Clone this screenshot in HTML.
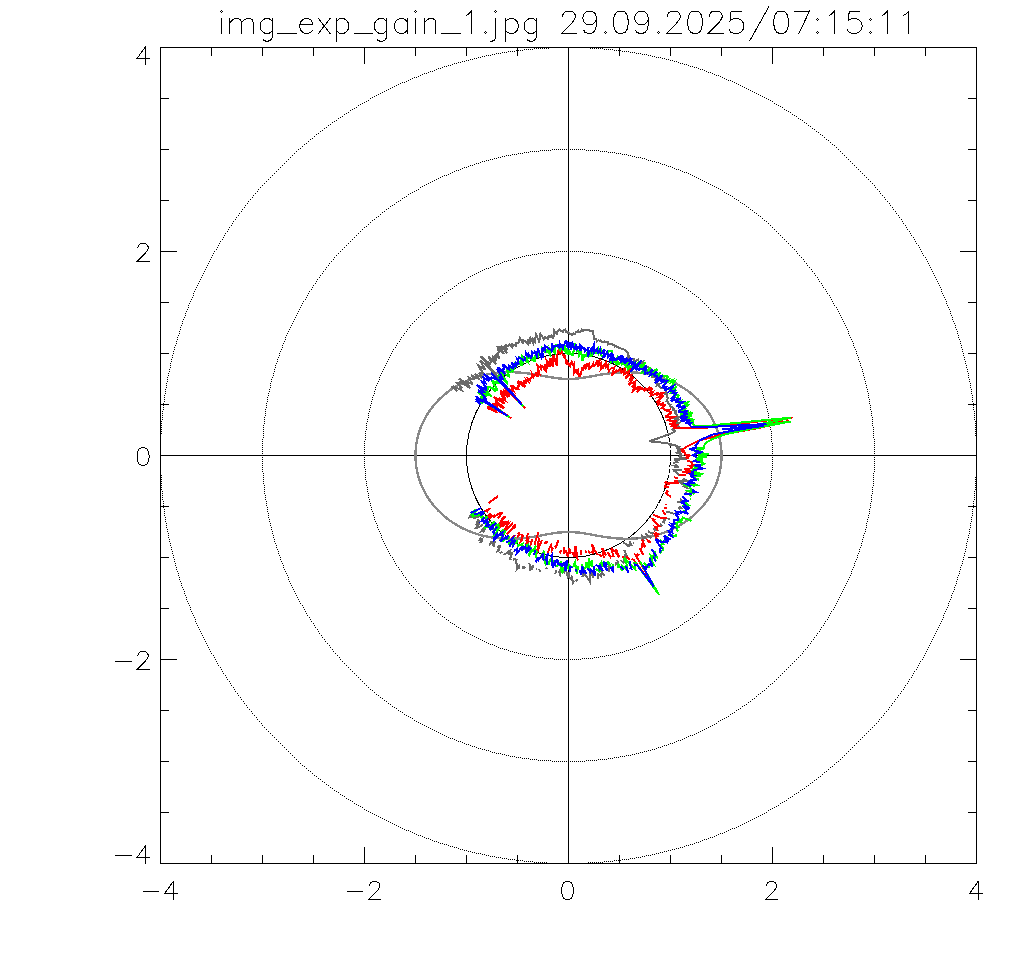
<!DOCTYPE html><html><head><meta charset="utf-8"><title>plot</title><style>html,body{margin:0;padding:0;background:#fff;font-family:"Liberation Sans",sans-serif}svg{display:block}</style></head><body>
<svg width="1024" height="960" viewBox="0 0 1024 960">
<rect x="0" y="0" width="1024" height="960" fill="#fff"/>
<g shape-rendering="crispEdges" stroke="#000" stroke-width="1" fill="none">
<rect x="160.5" y="47.5" width="816" height="816"/>
<path d="M211.5 48 v8M211.5 863 v-8M161 98.5 h8M976 98.5 h-8M262.5 48 v8M262.5 863 v-8M161 149.5 h8M976 149.5 h-8M313.5 48 v8M313.5 863 v-8M161 200.5 h8M976 200.5 h-8M364.5 48 v16M364.5 863 v-16M161 251.5 h16M976 251.5 h-16M415.5 48 v8M415.5 863 v-8M161 302.5 h8M976 302.5 h-8M466.5 48 v8M466.5 863 v-8M161 353.5 h8M976 353.5 h-8M517.5 48 v8M517.5 863 v-8M161 404.5 h8M976 404.5 h-8M568.5 48 v16M568.5 863 v-16M161 455.5 h16M976 455.5 h-16M619.5 48 v8M619.5 863 v-8M161 506.5 h8M976 506.5 h-8M670.5 48 v8M670.5 863 v-8M161 557.5 h8M976 557.5 h-8M721.5 48 v8M721.5 863 v-8M161 608.5 h8M976 608.5 h-8M772.5 48 v16M772.5 863 v-16M161 659.5 h16M976 659.5 h-16M823.5 48 v8M823.5 863 v-8M161 710.5 h8M976 710.5 h-8M874.5 48 v8M874.5 863 v-8M161 761.5 h8M976 761.5 h-8M925.5 48 v8M925.5 863 v-8M161 812.5 h8M976 812.5 h-8"/>
<path d="M568.5 47 V863 M160 455.5 H976"/>
</g>
<g fill="none" stroke="#000" stroke-width="1">
<path d="M668.27 434.29 A102.0 102.0 0 1 0 652.05 514.00" shape-rendering="crispEdges"/>
<path d="M652.05 514.00 A102.0 102.0 0 0 0 668.27 434.29" stroke-dasharray="5 1.3" shape-rendering="crispEdges"/>
<path d="M772 455.5h1M772 453.5h1M772 451.5h1M772 449.5h1M772 447.5h1M772 445.5h1M772 443.5h1M771 441.5h1M771 439.5h1M771 437.5h1M771 435.5h1M771 433.5h1M771 431.5h1M770 429.5h1M770 427.5h1M770 425.5h1M769 423.5h1M769 421.5h1M769 419.5h1M768 417.5h1M768 415.5h1M768 413.5h1M767 411.5h1M767 409.5h1M766 407.5h1M766 405.5h1M765 403.5h1M765 401.5h1M764 399.5h1M763 397.5h1M763 395.5h1M762 393.5h1M762 391.5h1M761 389.5h1M760 387.5h1M759 385.5h1M759 383.5h1M758 381.5h1M757 379.5h1M756 377.5h1M755 375.5h1M755 373.5h1M754 371.5h1M753 369.5h1M752 367.5h1M751 365.5h1M750 363.5h1M749 361.5h1M748 359.5h1M747 357.5h1M746 355.5h1M744 353.5h1M743 351.5h1M742 349.5h1M741 347.5h1M740 345.5h1M738 343.5h1M737 341.5h1M735 339.5h1M734 337.5h1M733 335.5h1M731 333.5h1M730 331.5h1M728 329.5h1M727 327.5h1M725 325.5h1M723 323.5h1M721 321.5h1M720 319.5h1M718 317.5h1M716 315.5h1M714 313.5h1M712 311.5h1M710 309.5h1M708 307.5h1M706 305.5h1M704 303.5h1M702 301.5h1M700 299.5h1M698 297.5h1M696 296.5h1M694 294.5h1M692 293.5h1M690 291.5h1M688 290.5h1M686 288.5h1M684 287.5h1M682 286.5h1M680 284.5h1M678 283.5h1M676 282.5h1M674 280.5h1M672 279.5h1M670 278.5h1M668 277.5h1M666 276.5h1M664 275.5h1M662 274.5h1M660 273.5h1M658 272.5h1M656 271.5h1M654 270.5h1M652 269.5h1M650 268.5h1M648 267.5h1M646 266.5h1M644 266.5h1M642 265.5h1M640 264.5h1M638 263.5h1M636 262.5h1M634 262.5h1M632 261.5h1M630 261.5h1M628 260.5h1M626 259.5h1M624 259.5h1M622 258.5h1M620 258.5h1M618 257.5h1M616 257.5h1M614 256.5h1M612 256.5h1M610 255.5h1M608 255.5h1M606 255.5h1M604 254.5h1M602 254.5h1M600 253.5h1M598 253.5h1M596 253.5h1M594 253.5h1M592 252.5h1M590 252.5h1M588 252.5h1M586 252.5h1M584 252.5h1M582 251.5h1M580 251.5h1M578 251.5h1M576 251.5h1M574 251.5h1M572 251.5h1M570 251.5h1M568 251.5h1M566 251.5h1M564 251.5h1M562 251.5h1M560 251.5h1M558 251.5h1M556 251.5h1M554 252.5h1M552 252.5h1M550 252.5h1M548 252.5h1M546 252.5h1M544 252.5h1M542 253.5h1M540 253.5h1M538 253.5h1M536 254.5h1M534 254.5h1M532 254.5h1M530 255.5h1M528 255.5h1M526 255.5h1M524 256.5h1M522 256.5h1M520 257.5h1M518 257.5h1M516 258.5h1M514 258.5h1M512 259.5h1M510 260.5h1M508 260.5h1M506 261.5h1M504 261.5h1M502 262.5h1M500 263.5h1M498 264.5h1M496 264.5h1M494 265.5h1M492 266.5h1M490 267.5h1M488 268.5h1M486 268.5h1M484 269.5h1M482 270.5h1M480 271.5h1M478 272.5h1M476 273.5h1M474 274.5h1M472 275.5h1M470 276.5h1M468 277.5h1M466 279.5h1M464 280.5h1M462 281.5h1M460 282.5h1M458 283.5h1M456 285.5h1M454 286.5h1M452 288.5h1M450 289.5h1M448 290.5h1M446 292.5h1M444 293.5h1M442 295.5h1M440 296.5h1M438 298.5h1M436 300.5h1M434 302.5h1M432 303.5h1M430 305.5h1M428 307.5h1M426 309.5h1M424 311.5h1M422 313.5h1M420 315.5h1M418 317.5h1M416 319.5h1M414 321.5h1M412 323.5h1M410 325.5h1M409 327.5h1M407 329.5h1M406 331.5h1M404 333.5h1M403 335.5h1M401 337.5h1M400 339.5h1M399 341.5h1M397 343.5h1M396 345.5h1M395 347.5h1M393 349.5h1M392 351.5h1M391 353.5h1M390 355.5h1M389 357.5h1M388 359.5h1M387 361.5h1M386 363.5h1M385 365.5h1M384 367.5h1M383 369.5h1M382 371.5h1M381 373.5h1M380 375.5h1M379 377.5h1M379 379.5h1M378 381.5h1M377 383.5h1M376 385.5h1M375 387.5h1M375 389.5h1M374 391.5h1M374 393.5h1M373 395.5h1M372 397.5h1M372 399.5h1M371 401.5h1M371 403.5h1M370 405.5h1M370 407.5h1M369 409.5h1M369 411.5h1M368 413.5h1M368 415.5h1M368 417.5h1M367 419.5h1M367 421.5h1M366 423.5h1M366 425.5h1M366 427.5h1M366 429.5h1M365 431.5h1M365 433.5h1M365 435.5h1M365 437.5h1M365 439.5h1M364 441.5h1M364 443.5h1M364 445.5h1M364 447.5h1M364 449.5h1M364 451.5h1M364 453.5h1M364 455.5h1M364 457.5h1M364 459.5h1M364 461.5h1M364 463.5h1M364 465.5h1M364 467.5h1M365 469.5h1M365 471.5h1M365 473.5h1M365 475.5h1M365 477.5h1M365 479.5h1M366 481.5h1M366 483.5h1M366 485.5h1M367 487.5h1M367 489.5h1M367 491.5h1M368 493.5h1M368 495.5h1M368 497.5h1M369 499.5h1M369 501.5h1M370 503.5h1M370 505.5h1M371 507.5h1M371 509.5h1M372 511.5h1M373 513.5h1M373 515.5h1M374 517.5h1M374 519.5h1M375 521.5h1M376 523.5h1M377 525.5h1M377 527.5h1M378 529.5h1M379 531.5h1M380 533.5h1M381 535.5h1M381 537.5h1M382 539.5h1M383 541.5h1M384 543.5h1M385 545.5h1M386 547.5h1M387 549.5h1M388 551.5h1M389 553.5h1M390 555.5h1M392 557.5h1M393 559.5h1M394 561.5h1M395 563.5h1M396 565.5h1M398 567.5h1M399 569.5h1M401 571.5h1M402 573.5h1M403 575.5h1M405 577.5h1M406 579.5h1M408 581.5h1M409 583.5h1M411 585.5h1M413 587.5h1M415 589.5h1M416 591.5h1M418 593.5h1M420 595.5h1M422 597.5h1M424 599.5h1M426 601.5h1M428 603.5h1M430 605.5h1M432 607.5h1M434 609.5h1M436 611.5h1M438 613.5h1M440 614.5h1M442 616.5h1M444 617.5h1M446 619.5h1M448 620.5h1M450 622.5h1M452 623.5h1M454 624.5h1M456 626.5h1M458 627.5h1M460 628.5h1M462 630.5h1M464 631.5h1M466 632.5h1M468 633.5h1M470 634.5h1M472 635.5h1M474 636.5h1M476 637.5h1M478 638.5h1M480 639.5h1M482 640.5h1M484 641.5h1M486 642.5h1M488 643.5h1M490 644.5h1M492 644.5h1M494 645.5h1M496 646.5h1M498 647.5h1M500 648.5h1M502 648.5h1M504 649.5h1M506 649.5h1M508 650.5h1M510 651.5h1M512 651.5h1M514 652.5h1M516 652.5h1M518 653.5h1M520 653.5h1M522 654.5h1M524 654.5h1M526 655.5h1M528 655.5h1M530 655.5h1M532 656.5h1M534 656.5h1M536 657.5h1M538 657.5h1M540 657.5h1M542 657.5h1M544 658.5h1M546 658.5h1M548 658.5h1M550 658.5h1M552 658.5h1M554 659.5h1M556 659.5h1M558 659.5h1M560 659.5h1M562 659.5h1M564 659.5h1M566 659.5h1M568 659.5h1M570 659.5h1M572 659.5h1M574 659.5h1M576 659.5h1M578 659.5h1M580 659.5h1M582 658.5h1M584 658.5h1M586 658.5h1M588 658.5h1M590 658.5h1M592 658.5h1M594 657.5h1M596 657.5h1M598 657.5h1M600 656.5h1M602 656.5h1M604 656.5h1M606 655.5h1M608 655.5h1M610 655.5h1M612 654.5h1M614 654.5h1M616 653.5h1M618 653.5h1M620 652.5h1M622 652.5h1M624 651.5h1M626 650.5h1M628 650.5h1M630 649.5h1M632 649.5h1M634 648.5h1M636 647.5h1M638 646.5h1M640 646.5h1M642 645.5h1M644 644.5h1M646 643.5h1M648 642.5h1M650 642.5h1M652 641.5h1M654 640.5h1M656 639.5h1M658 638.5h1M660 637.5h1M662 636.5h1M664 635.5h1M666 634.5h1M668 633.5h1M670 631.5h1M672 630.5h1M674 629.5h1M676 628.5h1M678 627.5h1M680 625.5h1M682 624.5h1M684 622.5h1M686 621.5h1M688 620.5h1M690 618.5h1M692 617.5h1M694 615.5h1M696 614.5h1M698 612.5h1M700 610.5h1M702 608.5h1M704 607.5h1M706 605.5h1M708 603.5h1M710 601.5h1M712 599.5h1M714 597.5h1M716 595.5h1M718 593.5h1M720 591.5h1M722 589.5h1M724 587.5h1M726 585.5h1M727 583.5h1M729 581.5h1M730 579.5h1M732 577.5h1M733 575.5h1M735 573.5h1M736 571.5h1M737 569.5h1M739 567.5h1M740 565.5h1M741 563.5h1M743 561.5h1M744 559.5h1M745 557.5h1M746 555.5h1M747 553.5h1M748 551.5h1M749 549.5h1M750 547.5h1M751 545.5h1M752 543.5h1M753 541.5h1M754 539.5h1M755 537.5h1M756 535.5h1M757 533.5h1M757 531.5h1M758 529.5h1M759 527.5h1M760 525.5h1M761 523.5h1M761 521.5h1M762 519.5h1M762 517.5h1M763 515.5h1M764 513.5h1M764 511.5h1M765 509.5h1M765 507.5h1M766 505.5h1M766 503.5h1M767 501.5h1M767 499.5h1M768 497.5h1M768 495.5h1M768 493.5h1M769 491.5h1M769 489.5h1M770 487.5h1M770 485.5h1M770 483.5h1M770 481.5h1M771 479.5h1M771 477.5h1M771 475.5h1M771 473.5h1M771 471.5h1M772 469.5h1M772 467.5h1M772 465.5h1M772 463.5h1M772 461.5h1M772 459.5h1M772 457.5h1M874 455.5h1M874 453.5h1M874 451.5h1M874 449.5h1M874 447.5h1M874 445.5h1M874 443.5h1M874 441.5h1M874 439.5h1M873 437.5h1M873 435.5h1M873 433.5h1M873 431.5h1M873 429.5h1M873 427.5h1M872 425.5h1M872 423.5h1M872 421.5h1M872 419.5h1M872 417.5h1M871 415.5h1M871 413.5h1M871 411.5h1M870 409.5h1M870 407.5h1M870 405.5h1M869 403.5h1M869 401.5h1M869 399.5h1M868 397.5h1M868 395.5h1M868 393.5h1M867 391.5h1M867 389.5h1M866 387.5h1M866 385.5h1M865 383.5h1M865 381.5h1M864 379.5h1M864 377.5h1M863 375.5h1M863 373.5h1M862 371.5h1M862 369.5h1M861 367.5h1M860 365.5h1M860 363.5h1M859 361.5h1M858 359.5h1M858 357.5h1M857 355.5h1M856 353.5h1M856 351.5h1M855 349.5h1M854 347.5h1M853 345.5h1M853 343.5h1M852 341.5h1M851 339.5h1M850 337.5h1M849 335.5h1M848 333.5h1M848 331.5h1M847 329.5h1M846 327.5h1M845 325.5h1M844 323.5h1M843 321.5h1M842 319.5h1M841 317.5h1M840 315.5h1M839 313.5h1M838 311.5h1M837 309.5h1M836 307.5h1M834 305.5h1M833 303.5h1M832 301.5h1M831 299.5h1M830 297.5h1M829 295.5h1M827 293.5h1M826 291.5h1M825 289.5h1M823 287.5h1M822 285.5h1M821 283.5h1M819 281.5h1M818 279.5h1M817 277.5h1M815 275.5h1M814 273.5h1M812 271.5h1M811 269.5h1M809 267.5h1M807 265.5h1M806 263.5h1M804 261.5h1M803 259.5h1M801 257.5h1M799 255.5h1M797 253.5h1M796 251.5h1M794 249.5h1M792 247.5h1M790 245.5h1M788 243.5h1M786 241.5h1M784 239.5h1M782 237.5h1M780 235.5h1M778 233.5h1M776 231.5h1M774 229.5h1M772 227.5h1M770 225.5h1M768 223.5h1M766 221.5h1M764 220.5h1M762 218.5h1M760 216.5h1M758 215.5h1M756 213.5h1M754 212.5h1M752 210.5h1M750 209.5h1M748 207.5h1M746 206.5h1M744 204.5h1M742 203.5h1M740 202.5h1M738 200.5h1M736 199.5h1M734 198.5h1M732 196.5h1M730 195.5h1M728 194.5h1M726 193.5h1M724 192.5h1M722 190.5h1M720 189.5h1M718 188.5h1M716 187.5h1M714 186.5h1M712 185.5h1M710 184.5h1M708 183.5h1M706 182.5h1M704 181.5h1M702 180.5h1M700 179.5h1M698 178.5h1M696 177.5h1M694 176.5h1M692 175.5h1M690 174.5h1M688 173.5h1M686 172.5h1M684 172.5h1M682 171.5h1M680 170.5h1M678 169.5h1M676 169.5h1M674 168.5h1M672 167.5h1M670 166.5h1M668 166.5h1M666 165.5h1M664 164.5h1M662 164.5h1M660 163.5h1M658 162.5h1M656 162.5h1M654 161.5h1M652 161.5h1M650 160.5h1M648 160.5h1M646 159.5h1M644 158.5h1M642 158.5h1M640 157.5h1M638 157.5h1M636 157.5h1M634 156.5h1M632 156.5h1M630 155.5h1M628 155.5h1M626 154.5h1M624 154.5h1M622 154.5h1M620 153.5h1M618 153.5h1M616 153.5h1M614 152.5h1M612 152.5h1M610 152.5h1M608 152.5h1M606 151.5h1M604 151.5h1M602 151.5h1M600 151.5h1M598 150.5h1M596 150.5h1M594 150.5h1M592 150.5h1M590 150.5h1M588 150.5h1M586 150.5h1M584 149.5h1M582 149.5h1M580 149.5h1M578 149.5h1M576 149.5h1M574 149.5h1M572 149.5h1M570 149.5h1M568 149.5h1M566 149.5h1M564 149.5h1M562 149.5h1M560 149.5h1M558 149.5h1M556 149.5h1M554 149.5h1M552 149.5h1M550 150.5h1M548 150.5h1M546 150.5h1M544 150.5h1M542 150.5h1M540 150.5h1M538 151.5h1M536 151.5h1M534 151.5h1M532 151.5h1M530 151.5h1M528 152.5h1M526 152.5h1M524 152.5h1M522 153.5h1M520 153.5h1M518 153.5h1M516 154.5h1M514 154.5h1M512 154.5h1M510 155.5h1M508 155.5h1M506 155.5h1M504 156.5h1M502 156.5h1M500 157.5h1M498 157.5h1M496 158.5h1M494 158.5h1M492 159.5h1M490 159.5h1M488 160.5h1M486 160.5h1M484 161.5h1M482 161.5h1M480 162.5h1M478 163.5h1M476 163.5h1M474 164.5h1M472 165.5h1M470 165.5h1M468 166.5h1M466 167.5h1M464 167.5h1M462 168.5h1M460 169.5h1M458 170.5h1M456 170.5h1M454 171.5h1M452 172.5h1M450 173.5h1M448 174.5h1M446 175.5h1M444 175.5h1M442 176.5h1M440 177.5h1M438 178.5h1M436 179.5h1M434 180.5h1M432 181.5h1M430 182.5h1M428 183.5h1M426 184.5h1M424 185.5h1M422 186.5h1M420 187.5h1M418 189.5h1M416 190.5h1M414 191.5h1M412 192.5h1M410 193.5h1M408 194.5h1M406 196.5h1M404 197.5h1M402 198.5h1M400 200.5h1M398 201.5h1M396 202.5h1M394 204.5h1M392 205.5h1M390 206.5h1M388 208.5h1M386 209.5h1M384 211.5h1M382 212.5h1M380 214.5h1M378 216.5h1M376 217.5h1M374 219.5h1M372 220.5h1M370 222.5h1M368 224.5h1M366 226.5h1M364 227.5h1M362 229.5h1M360 231.5h1M358 233.5h1M356 235.5h1M354 237.5h1M352 239.5h1M350 241.5h1M348 243.5h1M346 245.5h1M344 247.5h1M342 249.5h1M340 251.5h1M338 253.5h1M336 255.5h1M334 257.5h1M333 259.5h1M331 261.5h1M329 263.5h1M328 265.5h1M326 267.5h1M325 269.5h1M323 271.5h1M322 273.5h1M320 275.5h1M319 277.5h1M317 279.5h1M316 281.5h1M315 283.5h1M313 285.5h1M312 287.5h1M311 289.5h1M309 291.5h1M308 293.5h1M307 295.5h1M306 297.5h1M305 299.5h1M303 301.5h1M302 303.5h1M301 305.5h1M300 307.5h1M299 309.5h1M298 311.5h1M297 313.5h1M296 315.5h1M295 317.5h1M294 319.5h1M293 321.5h1M292 323.5h1M291 325.5h1M290 327.5h1M289 329.5h1M288 331.5h1M287 333.5h1M286 335.5h1M285 337.5h1M285 339.5h1M284 341.5h1M283 343.5h1M282 345.5h1M282 347.5h1M281 349.5h1M280 351.5h1M279 353.5h1M279 355.5h1M278 357.5h1M277 359.5h1M277 361.5h1M276 363.5h1M275 365.5h1M275 367.5h1M274 369.5h1M274 371.5h1M273 373.5h1M273 375.5h1M272 377.5h1M271 379.5h1M271 381.5h1M270 383.5h1M270 385.5h1M270 387.5h1M269 389.5h1M269 391.5h1M268 393.5h1M268 395.5h1M267 397.5h1M267 399.5h1M267 401.5h1M266 403.5h1M266 405.5h1M266 407.5h1M265 409.5h1M265 411.5h1M265 413.5h1M265 415.5h1M264 417.5h1M264 419.5h1M264 421.5h1M264 423.5h1M263 425.5h1M263 427.5h1M263 429.5h1M263 431.5h1M263 433.5h1M263 435.5h1M263 437.5h1M262 439.5h1M262 441.5h1M262 443.5h1M262 445.5h1M262 447.5h1M262 449.5h1M262 451.5h1M262 453.5h1M262 455.5h1M262 457.5h1M262 459.5h1M262 461.5h1M262 463.5h1M262 465.5h1M262 467.5h1M262 469.5h1M262 471.5h1M263 473.5h1M263 475.5h1M263 477.5h1M263 479.5h1M263 481.5h1M263 483.5h1M264 485.5h1M264 487.5h1M264 489.5h1M264 491.5h1M264 493.5h1M265 495.5h1M265 497.5h1M265 499.5h1M266 501.5h1M266 503.5h1M266 505.5h1M267 507.5h1M267 509.5h1M267 511.5h1M268 513.5h1M268 515.5h1M268 517.5h1M269 519.5h1M269 521.5h1M270 523.5h1M270 525.5h1M271 527.5h1M271 529.5h1M272 531.5h1M272 533.5h1M273 535.5h1M273 537.5h1M274 539.5h1M274 541.5h1M275 543.5h1M276 545.5h1M276 547.5h1M277 549.5h1M278 551.5h1M278 553.5h1M279 555.5h1M280 557.5h1M280 559.5h1M281 561.5h1M282 563.5h1M283 565.5h1M283 567.5h1M284 569.5h1M285 571.5h1M286 573.5h1M287 575.5h1M288 577.5h1M288 579.5h1M289 581.5h1M290 583.5h1M291 585.5h1M292 587.5h1M293 589.5h1M294 591.5h1M295 593.5h1M296 595.5h1M297 597.5h1M298 599.5h1M299 601.5h1M300 603.5h1M302 605.5h1M303 607.5h1M304 609.5h1M305 611.5h1M306 613.5h1M307 615.5h1M309 617.5h1M310 619.5h1M311 621.5h1M313 623.5h1M314 625.5h1M315 627.5h1M317 629.5h1M318 631.5h1M319 633.5h1M321 635.5h1M322 637.5h1M324 639.5h1M325 641.5h1M327 643.5h1M329 645.5h1M330 647.5h1M332 649.5h1M333 651.5h1M335 653.5h1M337 655.5h1M339 657.5h1M340 659.5h1M342 661.5h1M344 663.5h1M346 665.5h1M348 667.5h1M350 669.5h1M352 671.5h1M354 673.5h1M356 675.5h1M358 677.5h1M360 679.5h1M362 681.5h1M364 683.5h1M366 685.5h1M368 687.5h1M370 689.5h1M372 690.5h1M374 692.5h1M376 694.5h1M378 695.5h1M380 697.5h1M382 698.5h1M384 700.5h1M386 701.5h1M388 703.5h1M390 704.5h1M392 706.5h1M394 707.5h1M396 708.5h1M398 710.5h1M400 711.5h1M402 712.5h1M404 714.5h1M406 715.5h1M408 716.5h1M410 717.5h1M412 718.5h1M414 720.5h1M416 721.5h1M418 722.5h1M420 723.5h1M422 724.5h1M424 725.5h1M426 726.5h1M428 727.5h1M430 728.5h1M432 729.5h1M434 730.5h1M436 731.5h1M438 732.5h1M440 733.5h1M442 734.5h1M444 735.5h1M446 736.5h1M448 737.5h1M450 738.5h1M452 738.5h1M454 739.5h1M456 740.5h1M458 741.5h1M460 741.5h1M462 742.5h1M464 743.5h1M466 744.5h1M468 744.5h1M470 745.5h1M472 746.5h1M474 746.5h1M476 747.5h1M478 748.5h1M480 748.5h1M482 749.5h1M484 749.5h1M486 750.5h1M488 750.5h1M490 751.5h1M492 752.5h1M494 752.5h1M496 753.5h1M498 753.5h1M500 753.5h1M502 754.5h1M504 754.5h1M506 755.5h1M508 755.5h1M510 756.5h1M512 756.5h1M514 756.5h1M516 757.5h1M518 757.5h1M520 757.5h1M522 758.5h1M524 758.5h1M526 758.5h1M528 758.5h1M530 759.5h1M532 759.5h1M534 759.5h1M536 759.5h1M538 760.5h1M540 760.5h1M542 760.5h1M544 760.5h1M546 760.5h1M548 760.5h1M550 760.5h1M552 761.5h1M554 761.5h1M556 761.5h1M558 761.5h1M560 761.5h1M562 761.5h1M564 761.5h1M566 761.5h1M568 761.5h1M570 761.5h1M572 761.5h1M574 761.5h1M576 761.5h1M578 761.5h1M580 761.5h1M582 761.5h1M584 761.5h1M586 760.5h1M588 760.5h1M590 760.5h1M592 760.5h1M594 760.5h1M596 760.5h1M598 759.5h1M600 759.5h1M602 759.5h1M604 759.5h1M606 759.5h1M608 758.5h1M610 758.5h1M612 758.5h1M614 757.5h1M616 757.5h1M618 757.5h1M620 756.5h1M622 756.5h1M624 756.5h1M626 755.5h1M628 755.5h1M630 755.5h1M632 754.5h1M634 754.5h1M636 753.5h1M638 753.5h1M640 752.5h1M642 752.5h1M644 751.5h1M646 751.5h1M648 750.5h1M650 750.5h1M652 749.5h1M654 749.5h1M656 748.5h1M658 747.5h1M660 747.5h1M662 746.5h1M664 745.5h1M666 745.5h1M668 744.5h1M670 743.5h1M672 743.5h1M674 742.5h1M676 741.5h1M678 740.5h1M680 740.5h1M682 739.5h1M684 738.5h1M686 737.5h1M688 736.5h1M690 735.5h1M692 735.5h1M694 734.5h1M696 733.5h1M698 732.5h1M700 731.5h1M702 730.5h1M704 729.5h1M706 728.5h1M708 727.5h1M710 726.5h1M712 725.5h1M714 724.5h1M716 723.5h1M718 721.5h1M720 720.5h1M722 719.5h1M724 718.5h1M726 717.5h1M728 716.5h1M730 714.5h1M732 713.5h1M734 712.5h1M736 710.5h1M738 709.5h1M740 708.5h1M742 706.5h1M744 705.5h1M746 704.5h1M748 702.5h1M750 701.5h1M752 699.5h1M754 698.5h1M756 696.5h1M758 694.5h1M760 693.5h1M762 691.5h1M764 690.5h1M766 688.5h1M768 686.5h1M770 684.5h1M772 683.5h1M774 681.5h1M776 679.5h1M778 677.5h1M780 675.5h1M782 673.5h1M784 671.5h1M786 669.5h1M788 667.5h1M790 665.5h1M792 663.5h1M794 661.5h1M796 659.5h1M798 657.5h1M800 655.5h1M802 653.5h1M803 651.5h1M805 649.5h1M807 647.5h1M808 645.5h1M810 643.5h1M811 641.5h1M813 639.5h1M814 637.5h1M816 635.5h1M817 633.5h1M819 631.5h1M820 629.5h1M821 627.5h1M823 625.5h1M824 623.5h1M825 621.5h1M827 619.5h1M828 617.5h1M829 615.5h1M830 613.5h1M831 611.5h1M833 609.5h1M834 607.5h1M835 605.5h1M836 603.5h1M837 601.5h1M838 599.5h1M839 597.5h1M840 595.5h1M841 593.5h1M842 591.5h1M843 589.5h1M844 587.5h1M845 585.5h1M846 583.5h1M847 581.5h1M848 579.5h1M849 577.5h1M850 575.5h1M851 573.5h1M851 571.5h1M852 569.5h1M853 567.5h1M854 565.5h1M854 563.5h1M855 561.5h1M856 559.5h1M857 557.5h1M857 555.5h1M858 553.5h1M859 551.5h1M859 549.5h1M860 547.5h1M861 545.5h1M861 543.5h1M862 541.5h1M862 539.5h1M863 537.5h1M863 535.5h1M864 533.5h1M865 531.5h1M865 529.5h1M866 527.5h1M866 525.5h1M866 523.5h1M867 521.5h1M867 519.5h1M868 517.5h1M868 515.5h1M869 513.5h1M869 511.5h1M869 509.5h1M870 507.5h1M870 505.5h1M870 503.5h1M871 501.5h1M871 499.5h1M871 497.5h1M871 495.5h1M872 493.5h1M872 491.5h1M872 489.5h1M872 487.5h1M873 485.5h1M873 483.5h1M873 481.5h1M873 479.5h1M873 477.5h1M873 475.5h1M873 473.5h1M874 471.5h1M874 469.5h1M874 467.5h1M874 465.5h1M874 463.5h1M874 461.5h1M874 459.5h1M874 457.5h1M976 455.5h1M976 453.5h1M976 451.5h1M976 449.5h1M976 447.5h1M976 445.5h1M976 443.5h1M976 441.5h1M976 439.5h1M976 437.5h1M975 435.5h1M975 433.5h1M975 431.5h1M975 429.5h1M975 427.5h1M975 425.5h1M975 423.5h1M975 421.5h1M974 419.5h1M974 417.5h1M974 415.5h1M974 413.5h1M974 411.5h1M973 409.5h1M973 407.5h1M973 405.5h1M973 403.5h1M972 401.5h1M972 399.5h1M972 397.5h1M972 395.5h1M971 393.5h1M971 391.5h1M971 389.5h1M970 387.5h1M970 385.5h1M970 383.5h1M969 381.5h1M969 379.5h1M968 377.5h1M968 375.5h1M968 373.5h1M967 371.5h1M967 369.5h1M966 367.5h1M966 365.5h1M965 363.5h1M965 361.5h1M964 359.5h1M964 357.5h1M963 355.5h1M963 353.5h1M962 351.5h1M962 349.5h1M961 347.5h1M961 345.5h1M960 343.5h1M960 341.5h1M959 339.5h1M958 337.5h1M958 335.5h1M957 333.5h1M957 331.5h1M956 329.5h1M955 327.5h1M955 325.5h1M954 323.5h1M953 321.5h1M952 319.5h1M952 317.5h1M951 315.5h1M950 313.5h1M950 311.5h1M949 309.5h1M948 307.5h1M947 305.5h1M946 303.5h1M946 301.5h1M945 299.5h1M944 297.5h1M943 295.5h1M942 293.5h1M941 291.5h1M941 289.5h1M940 287.5h1M939 285.5h1M938 283.5h1M937 281.5h1M936 279.5h1M935 277.5h1M934 275.5h1M933 273.5h1M932 271.5h1M931 269.5h1M930 267.5h1M929 265.5h1M928 263.5h1M927 261.5h1M926 259.5h1M925 257.5h1M923 255.5h1M922 253.5h1M921 251.5h1M920 249.5h1M919 247.5h1M918 245.5h1M916 243.5h1M915 241.5h1M914 239.5h1M913 237.5h1M911 235.5h1M910 233.5h1M909 231.5h1M907 229.5h1M906 227.5h1M905 225.5h1M903 223.5h1M902 221.5h1M901 219.5h1M899 217.5h1M898 215.5h1M896 213.5h1M895 211.5h1M893 209.5h1M892 207.5h1M890 205.5h1M889 203.5h1M887 201.5h1M885 199.5h1M884 197.5h1M882 195.5h1M880 193.5h1M879 191.5h1M877 189.5h1M875 187.5h1M874 185.5h1M872 183.5h1M870 181.5h1M868 179.5h1M866 177.5h1M864 175.5h1M862 173.5h1M860 171.5h1M858 169.5h1M856 167.5h1M854 165.5h1M852 163.5h1M850 161.5h1M848 159.5h1M846 157.5h1M844 155.5h1M842 153.5h1M840 151.5h1M838 149.5h1M836 147.5h1M834 145.5h1M832 144.5h1M830 142.5h1M828 140.5h1M826 139.5h1M824 137.5h1M822 135.5h1M820 134.5h1M818 132.5h1M816 131.5h1M814 129.5h1M812 128.5h1M810 126.5h1M808 125.5h1M806 123.5h1M804 122.5h1M802 120.5h1M800 119.5h1M798 118.5h1M796 116.5h1M794 115.5h1M792 114.5h1M790 112.5h1M788 111.5h1M786 110.5h1M784 109.5h1M782 107.5h1M780 106.5h1M778 105.5h1M776 104.5h1M774 103.5h1M772 101.5h1M770 100.5h1M768 99.5h1M766 98.5h1M764 97.5h1M762 96.5h1M760 95.5h1M758 94.5h1M756 93.5h1M754 92.5h1M752 91.5h1M750 90.5h1M748 89.5h1M746 88.5h1M744 87.5h1M742 86.5h1M740 85.5h1M738 84.5h1M736 83.5h1M734 82.5h1M732 81.5h1M730 80.5h1M728 80.5h1M726 79.5h1M724 78.5h1M722 77.5h1M720 76.5h1M718 75.5h1M716 75.5h1M714 74.5h1M712 73.5h1M710 72.5h1M708 72.5h1M706 71.5h1M704 70.5h1M702 69.5h1M700 69.5h1M698 68.5h1M696 67.5h1M694 67.5h1M692 66.5h1M690 66.5h1M688 65.5h1M686 64.5h1M684 64.5h1M682 63.5h1M680 63.5h1M678 62.5h1M676 61.5h1M674 61.5h1M672 60.5h1M670 60.5h1M668 59.5h1M666 59.5h1M664 58.5h1M662 58.5h1M660 57.5h1M658 57.5h1M656 57.5h1M654 56.5h1M652 56.5h1M650 55.5h1M648 55.5h1M646 54.5h1M644 54.5h1M642 54.5h1M640 53.5h1M638 53.5h1M636 53.5h1M634 52.5h1M632 52.5h1M630 52.5h1M628 51.5h1M626 51.5h1M624 51.5h1M622 51.5h1M620 50.5h1M618 50.5h1M616 50.5h1M614 50.5h1M612 49.5h1M610 49.5h1M608 49.5h1M606 49.5h1M604 49.5h1M602 48.5h1M600 48.5h1M598 48.5h1M596 48.5h1M594 48.5h1M592 48.5h1M590 48.5h1M588 47.5h1M586 47.5h1M584 47.5h1M582 47.5h1M580 47.5h1M578 47.5h1M576 47.5h1M574 47.5h1M572 47.5h1M570 47.5h1M568 47.5h1M566 47.5h1M564 47.5h1M562 47.5h1M560 47.5h1M558 47.5h1M556 47.5h1M554 47.5h1M552 47.5h1M550 47.5h1M548 48.5h1M546 48.5h1M544 48.5h1M542 48.5h1M540 48.5h1M538 48.5h1M536 48.5h1M534 48.5h1M532 49.5h1M530 49.5h1M528 49.5h1M526 49.5h1M524 49.5h1M522 50.5h1M520 50.5h1M518 50.5h1M516 50.5h1M514 51.5h1M512 51.5h1M510 51.5h1M508 51.5h1M506 52.5h1M504 52.5h1M502 52.5h1M500 53.5h1M498 53.5h1M496 53.5h1M494 54.5h1M492 54.5h1M490 55.5h1M488 55.5h1M486 55.5h1M484 56.5h1M482 56.5h1M480 57.5h1M478 57.5h1M476 58.5h1M474 58.5h1M472 59.5h1M470 59.5h1M468 60.5h1M466 60.5h1M464 61.5h1M462 61.5h1M460 62.5h1M458 62.5h1M456 63.5h1M454 63.5h1M452 64.5h1M450 65.5h1M448 65.5h1M446 66.5h1M444 66.5h1M442 67.5h1M440 68.5h1M438 68.5h1M436 69.5h1M434 70.5h1M432 71.5h1M430 71.5h1M428 72.5h1M426 73.5h1M424 73.5h1M422 74.5h1M420 75.5h1M418 76.5h1M416 77.5h1M414 77.5h1M412 78.5h1M410 79.5h1M408 80.5h1M406 81.5h1M404 82.5h1M402 82.5h1M400 83.5h1M398 84.5h1M396 85.5h1M394 86.5h1M392 87.5h1M390 88.5h1M388 89.5h1M386 90.5h1M384 91.5h1M382 92.5h1M380 93.5h1M378 94.5h1M376 95.5h1M374 96.5h1M372 97.5h1M370 98.5h1M368 100.5h1M366 101.5h1M364 102.5h1M362 103.5h1M360 104.5h1M358 105.5h1M356 107.5h1M354 108.5h1M352 109.5h1M350 110.5h1M348 112.5h1M346 113.5h1M344 114.5h1M342 116.5h1M340 117.5h1M338 118.5h1M336 120.5h1M334 121.5h1M332 122.5h1M330 124.5h1M328 125.5h1M326 127.5h1M324 128.5h1M322 130.5h1M320 131.5h1M318 133.5h1M316 134.5h1M314 136.5h1M312 138.5h1M310 139.5h1M308 141.5h1M306 143.5h1M304 144.5h1M302 146.5h1M300 148.5h1M298 149.5h1M296 151.5h1M294 153.5h1M292 155.5h1M290 157.5h1M288 159.5h1M286 161.5h1M284 163.5h1M282 165.5h1M280 167.5h1M278 169.5h1M276 171.5h1M274 173.5h1M272 175.5h1M270 177.5h1M268 179.5h1M266 181.5h1M264 183.5h1M262 185.5h1M260 187.5h1M258 189.5h1M257 191.5h1M255 193.5h1M253 195.5h1M252 197.5h1M250 199.5h1M248 201.5h1M247 203.5h1M245 205.5h1M244 207.5h1M242 209.5h1M241 211.5h1M239 213.5h1M238 215.5h1M236 217.5h1M235 219.5h1M233 221.5h1M232 223.5h1M231 225.5h1M229 227.5h1M228 229.5h1M227 231.5h1M225 233.5h1M224 235.5h1M223 237.5h1M222 239.5h1M220 241.5h1M219 243.5h1M218 245.5h1M217 247.5h1M216 249.5h1M214 251.5h1M213 253.5h1M212 255.5h1M211 257.5h1M210 259.5h1M209 261.5h1M208 263.5h1M207 265.5h1M206 267.5h1M205 269.5h1M204 271.5h1M203 273.5h1M202 275.5h1M201 277.5h1M200 279.5h1M199 281.5h1M198 283.5h1M197 285.5h1M196 287.5h1M195 289.5h1M194 291.5h1M193 293.5h1M193 295.5h1M192 297.5h1M191 299.5h1M190 301.5h1M189 303.5h1M188 305.5h1M188 307.5h1M187 309.5h1M186 311.5h1M185 313.5h1M185 315.5h1M184 317.5h1M183 319.5h1M182 321.5h1M182 323.5h1M181 325.5h1M180 327.5h1M180 329.5h1M179 331.5h1M179 333.5h1M178 335.5h1M177 337.5h1M177 339.5h1M176 341.5h1M176 343.5h1M175 345.5h1M174 347.5h1M174 349.5h1M173 351.5h1M173 353.5h1M172 355.5h1M172 357.5h1M171 359.5h1M171 361.5h1M170 363.5h1M170 365.5h1M170 367.5h1M169 369.5h1M169 371.5h1M168 373.5h1M168 375.5h1M167 377.5h1M167 379.5h1M167 381.5h1M166 383.5h1M166 385.5h1M166 387.5h1M165 389.5h1M165 391.5h1M165 393.5h1M164 395.5h1M164 397.5h1M164 399.5h1M164 401.5h1M163 403.5h1M163 405.5h1M163 407.5h1M163 409.5h1M162 411.5h1M162 413.5h1M162 415.5h1M162 417.5h1M162 419.5h1M161 421.5h1M161 423.5h1M161 425.5h1M161 427.5h1M161 429.5h1M161 431.5h1M161 433.5h1M160 435.5h1M160 437.5h1M160 439.5h1M160 441.5h1M160 443.5h1M160 445.5h1M160 447.5h1M160 449.5h1M160 451.5h1M160 453.5h1M160 455.5h1M160 457.5h1M160 459.5h1M160 461.5h1M160 463.5h1M160 465.5h1M160 467.5h1M160 469.5h1M160 471.5h1M160 473.5h1M161 475.5h1M161 477.5h1M161 479.5h1M161 481.5h1M161 483.5h1M161 485.5h1M161 487.5h1M161 489.5h1M162 491.5h1M162 493.5h1M162 495.5h1M162 497.5h1M162 499.5h1M163 501.5h1M163 503.5h1M163 505.5h1M163 507.5h1M164 509.5h1M164 511.5h1M164 513.5h1M164 515.5h1M165 517.5h1M165 519.5h1M165 521.5h1M166 523.5h1M166 525.5h1M166 527.5h1M167 529.5h1M167 531.5h1M168 533.5h1M168 535.5h1M168 537.5h1M169 539.5h1M169 541.5h1M170 543.5h1M170 545.5h1M171 547.5h1M171 549.5h1M172 551.5h1M172 553.5h1M173 555.5h1M173 557.5h1M174 559.5h1M174 561.5h1M175 563.5h1M175 565.5h1M176 567.5h1M176 569.5h1M177 571.5h1M178 573.5h1M178 575.5h1M179 577.5h1M179 579.5h1M180 581.5h1M181 583.5h1M181 585.5h1M182 587.5h1M183 589.5h1M184 591.5h1M184 593.5h1M185 595.5h1M186 597.5h1M186 599.5h1M187 601.5h1M188 603.5h1M189 605.5h1M190 607.5h1M190 609.5h1M191 611.5h1M192 613.5h1M193 615.5h1M194 617.5h1M195 619.5h1M195 621.5h1M196 623.5h1M197 625.5h1M198 627.5h1M199 629.5h1M200 631.5h1M201 633.5h1M202 635.5h1M203 637.5h1M204 639.5h1M205 641.5h1M206 643.5h1M207 645.5h1M208 647.5h1M209 649.5h1M210 651.5h1M211 653.5h1M213 655.5h1M214 657.5h1M215 659.5h1M216 661.5h1M217 663.5h1M218 665.5h1M220 667.5h1M221 669.5h1M222 671.5h1M223 673.5h1M225 675.5h1M226 677.5h1M227 679.5h1M229 681.5h1M230 683.5h1M231 685.5h1M233 687.5h1M234 689.5h1M235 691.5h1M237 693.5h1M238 695.5h1M240 697.5h1M241 699.5h1M243 701.5h1M244 703.5h1M246 705.5h1M247 707.5h1M249 709.5h1M251 711.5h1M252 713.5h1M254 715.5h1M256 717.5h1M257 719.5h1M259 721.5h1M261 723.5h1M262 725.5h1M264 727.5h1M266 729.5h1M268 731.5h1M270 733.5h1M272 735.5h1M274 737.5h1M276 739.5h1M278 741.5h1M280 743.5h1M282 745.5h1M284 747.5h1M286 749.5h1M288 751.5h1M290 753.5h1M292 755.5h1M294 757.5h1M296 759.5h1M298 761.5h1M300 763.5h1M302 765.5h1M304 766.5h1M306 768.5h1M308 770.5h1M310 771.5h1M312 773.5h1M314 775.5h1M316 776.5h1M318 778.5h1M320 779.5h1M322 781.5h1M324 782.5h1M326 784.5h1M328 785.5h1M330 787.5h1M332 788.5h1M334 790.5h1M336 791.5h1M338 792.5h1M340 794.5h1M342 795.5h1M344 796.5h1M346 798.5h1M348 799.5h1M350 800.5h1M352 801.5h1M354 803.5h1M356 804.5h1M358 805.5h1M360 806.5h1M362 807.5h1M364 809.5h1M366 810.5h1M368 811.5h1M370 812.5h1M372 813.5h1M374 814.5h1M376 815.5h1M378 816.5h1M380 817.5h1M382 818.5h1M384 819.5h1M386 820.5h1M388 821.5h1M390 822.5h1M392 823.5h1M394 824.5h1M396 825.5h1M398 826.5h1M400 827.5h1M402 828.5h1M404 829.5h1M406 830.5h1M408 830.5h1M410 831.5h1M412 832.5h1M414 833.5h1M416 834.5h1M418 835.5h1M420 835.5h1M422 836.5h1M424 837.5h1M426 838.5h1M428 838.5h1M430 839.5h1M432 840.5h1M434 841.5h1M436 841.5h1M438 842.5h1M440 843.5h1M442 843.5h1M444 844.5h1M446 844.5h1M448 845.5h1M450 846.5h1M452 846.5h1M454 847.5h1M456 847.5h1M458 848.5h1M460 849.5h1M462 849.5h1M464 850.5h1M466 850.5h1M468 851.5h1M470 851.5h1M472 852.5h1M474 852.5h1M476 853.5h1M478 853.5h1M480 853.5h1M482 854.5h1M484 854.5h1M486 855.5h1M488 855.5h1M490 856.5h1M492 856.5h1M494 856.5h1M496 857.5h1M498 857.5h1M500 857.5h1M502 858.5h1M504 858.5h1M506 858.5h1M508 859.5h1M510 859.5h1M512 859.5h1M514 859.5h1M516 860.5h1M518 860.5h1M520 860.5h1M522 860.5h1M524 861.5h1M526 861.5h1M528 861.5h1M530 861.5h1M532 861.5h1M534 862.5h1M536 862.5h1M538 862.5h1M540 862.5h1M542 862.5h1M544 862.5h1M546 862.5h1M548 863.5h1M550 863.5h1M552 863.5h1M554 863.5h1M556 863.5h1M558 863.5h1M560 863.5h1M562 863.5h1M564 863.5h1M566 863.5h1M568 863.5h1M570 863.5h1M572 863.5h1M574 863.5h1M576 863.5h1M578 863.5h1M580 863.5h1M582 863.5h1M584 863.5h1M586 863.5h1M588 862.5h1M590 862.5h1M592 862.5h1M594 862.5h1M596 862.5h1M598 862.5h1M600 862.5h1M602 862.5h1M604 861.5h1M606 861.5h1M608 861.5h1M610 861.5h1M612 861.5h1M614 860.5h1M616 860.5h1M618 860.5h1M620 860.5h1M622 859.5h1M624 859.5h1M626 859.5h1M628 859.5h1M630 858.5h1M632 858.5h1M634 858.5h1M636 857.5h1M638 857.5h1M640 857.5h1M642 856.5h1M644 856.5h1M646 855.5h1M648 855.5h1M650 855.5h1M652 854.5h1M654 854.5h1M656 853.5h1M658 853.5h1M660 852.5h1M662 852.5h1M664 851.5h1M666 851.5h1M668 850.5h1M670 850.5h1M672 849.5h1M674 849.5h1M676 848.5h1M678 848.5h1M680 847.5h1M682 847.5h1M684 846.5h1M686 845.5h1M688 845.5h1M690 844.5h1M692 844.5h1M694 843.5h1M696 842.5h1M698 842.5h1M700 841.5h1M702 840.5h1M704 839.5h1M706 839.5h1M708 838.5h1M710 837.5h1M712 837.5h1M714 836.5h1M716 835.5h1M718 834.5h1M720 833.5h1M722 833.5h1M724 832.5h1M726 831.5h1M728 830.5h1M730 829.5h1M732 828.5h1M734 828.5h1M736 827.5h1M738 826.5h1M740 825.5h1M742 824.5h1M744 823.5h1M746 822.5h1M748 821.5h1M750 820.5h1M752 819.5h1M754 818.5h1M756 817.5h1M758 816.5h1M760 815.5h1M762 814.5h1M764 813.5h1M766 812.5h1M768 810.5h1M770 809.5h1M772 808.5h1M774 807.5h1M776 806.5h1M778 805.5h1M780 803.5h1M782 802.5h1M784 801.5h1M786 800.5h1M788 798.5h1M790 797.5h1M792 796.5h1M794 794.5h1M796 793.5h1M798 792.5h1M800 790.5h1M802 789.5h1M804 788.5h1M806 786.5h1M808 785.5h1M810 783.5h1M812 782.5h1M814 780.5h1M816 779.5h1M818 777.5h1M820 776.5h1M822 774.5h1M824 772.5h1M826 771.5h1M828 769.5h1M830 767.5h1M832 766.5h1M834 764.5h1M836 762.5h1M838 761.5h1M840 759.5h1M842 757.5h1M844 755.5h1M846 753.5h1M848 751.5h1M850 749.5h1M852 747.5h1M854 745.5h1M856 743.5h1M858 741.5h1M860 739.5h1M862 737.5h1M864 735.5h1M866 733.5h1M868 731.5h1M870 729.5h1M872 727.5h1M874 725.5h1M876 723.5h1M878 721.5h1M879 719.5h1M881 717.5h1M883 715.5h1M884 713.5h1M886 711.5h1M888 709.5h1M889 707.5h1M891 705.5h1M892 703.5h1M894 701.5h1M895 699.5h1M897 697.5h1M898 695.5h1M900 693.5h1M901 691.5h1M903 689.5h1M904 687.5h1M905 685.5h1M907 683.5h1M908 681.5h1M909 679.5h1M911 677.5h1M912 675.5h1M913 673.5h1M914 671.5h1M916 669.5h1M917 667.5h1M918 665.5h1M919 663.5h1M920 661.5h1M922 659.5h1M923 657.5h1M924 655.5h1M925 653.5h1M926 651.5h1M927 649.5h1M928 647.5h1M929 645.5h1M930 643.5h1M931 641.5h1M932 639.5h1M933 637.5h1M934 635.5h1M935 633.5h1M936 631.5h1M937 629.5h1M938 627.5h1M939 625.5h1M940 623.5h1M941 621.5h1M942 619.5h1M943 617.5h1M943 615.5h1M944 613.5h1M945 611.5h1M946 609.5h1M947 607.5h1M948 605.5h1M948 603.5h1M949 601.5h1M950 599.5h1M951 597.5h1M951 595.5h1M952 593.5h1M953 591.5h1M954 589.5h1M954 587.5h1M955 585.5h1M956 583.5h1M956 581.5h1M957 579.5h1M957 577.5h1M958 575.5h1M959 573.5h1M959 571.5h1M960 569.5h1M960 567.5h1M961 565.5h1M962 563.5h1M962 561.5h1M963 559.5h1M963 557.5h1M964 555.5h1M964 553.5h1M965 551.5h1M965 549.5h1M966 547.5h1M966 545.5h1M966 543.5h1M967 541.5h1M967 539.5h1M968 537.5h1M968 535.5h1M969 533.5h1M969 531.5h1M969 529.5h1M970 527.5h1M970 525.5h1M970 523.5h1M971 521.5h1M971 519.5h1M971 517.5h1M972 515.5h1M972 513.5h1M972 511.5h1M972 509.5h1M973 507.5h1M973 505.5h1M973 503.5h1M973 501.5h1M974 499.5h1M974 497.5h1M974 495.5h1M974 493.5h1M974 491.5h1M975 489.5h1M975 487.5h1M975 485.5h1M975 483.5h1M975 481.5h1M975 479.5h1M975 477.5h1M976 475.5h1M976 473.5h1M976 471.5h1M976 469.5h1M976 467.5h1M976 465.5h1M976 463.5h1M976 461.5h1M976 459.5h1M976 457.5h1" shape-rendering="crispEdges"/>
</g>
<g fill="none" shape-rendering="crispEdges" stroke-linejoin="miter" stroke-linecap="butt">
<path d="M721.5 455.5L721.5 452.8L721.3 450.2L721.1 447.5L720.8 444.9L720.3 442.2L719.8 439.6L719.2 437.0L718.5 434.4L717.8 431.9L716.9 429.3L716.0 426.8L714.9 424.4L713.8 422.0L712.6 419.6L711.3 417.2L710.0 414.9L708.6 412.7L707.1 410.5L705.5 408.3L703.9 406.2L702.2 404.2L700.4 402.2L698.6 400.3L696.7 398.4L694.8 396.6L692.8 394.9L690.8 393.2L688.7 391.6L686.6 390.0L684.4 388.6L682.3 387.2L680.0 385.8L677.8 384.5L675.5 383.3L673.2 382.2L670.9 381.1L668.6 380.1L666.2 379.2L663.9 378.3L661.5 377.5L659.1 376.7L656.7 376.0L654.4 375.4L652.0 374.9L649.6 374.4L647.3 373.9L644.9 373.5L642.6 373.2L640.3 372.9L638.0 372.7L635.7 372.5L633.5 372.4L631.2 372.3L629.0 372.2L626.8 372.2L624.7 372.2L622.5 372.3L620.4 372.4L618.4 372.5L616.3 372.7L614.3 372.9L612.3 373.1L610.4 373.3L608.5 373.5L606.6 373.8L604.8 374.1L603.0 374.3L601.2 374.6L599.4 374.9L597.7 375.2L596.0 375.5L594.4 375.8L592.8 376.1L591.2 376.4L589.6 376.7L588.1 376.9L586.6 377.2L585.1 377.4L583.6 377.7L582.2 377.9L580.8 378.1L579.4 378.3L578.0 378.4L576.6 378.6L575.2 378.7L573.9 378.8L572.5 378.9L571.2 379.0L569.8 379.0L568.5 379.0L567.2 379.0L565.8 379.0L564.5 378.9L563.1 378.8L561.8 378.7L560.4 378.6L559.0 378.4L557.6 378.3L556.2 378.1L554.8 377.9L553.4 377.7L551.9 377.4L550.4 377.2L548.9 376.9L547.4 376.7L545.8 376.4L544.2 376.1L542.6 375.8L541.0 375.5L539.3 375.2L537.6 374.9L535.8 374.6L534.0 374.3L532.2 374.1L530.4 373.8L528.5 373.5L526.6 373.3L524.7 373.1L522.7 372.9L520.7 372.7L518.6 372.5L516.6 372.4L514.5 372.3L512.3 372.2L510.2 372.2L508.0 372.2L505.8 372.3L503.5 372.4L501.3 372.5L499.0 372.7L496.7 372.9L494.4 373.2L492.1 373.5L489.7 373.9L487.4 374.4L485.0 374.9L482.6 375.4L480.3 376.0L477.9 376.7L475.5 377.5L473.1 378.3L470.8 379.2L468.4 380.1L466.1 381.1L463.8 382.2L461.5 383.3L459.2 384.5L457.0 385.8L454.7 387.2L452.6 388.6L450.4 390.0L448.3 391.6L446.2 393.2L444.2 394.9L442.2 396.6L440.3 398.4L438.4 400.3L436.6 402.2L434.8 404.2L433.1 406.2L431.5 408.3L429.9 410.5L428.4 412.7L427.0 414.9L425.7 417.2L424.4 419.6L423.2 422.0L422.1 424.4L421.0 426.8L420.1 429.3L419.2 431.9L418.5 434.4L417.8 437.0L417.2 439.6L416.7 442.2L416.2 444.9L415.9 447.5L415.7 450.2L415.5 452.8L415.5 455.5L415.5 458.2L415.7 460.8L415.9 463.5L416.2 466.1L416.7 468.8L417.2 471.4L417.8 474.0L418.5 476.6L419.2 479.1L420.1 481.7L421.0 484.2L422.1 486.6L423.2 489.0L424.4 491.4L425.7 493.8L427.0 496.1L428.4 498.3L429.9 500.5L431.5 502.7L433.1 504.8L434.8 506.8L436.6 508.8L438.4 510.7L440.3 512.6L442.2 514.4L444.2 516.1L446.2 517.8L448.3 519.4L450.4 521.0L452.6 522.4L454.7 523.8L457.0 525.2L459.2 526.5L461.5 527.7L463.8 528.8L466.1 529.9L468.4 530.9L470.8 531.8L473.1 532.7L475.5 533.5L477.9 534.3L480.3 535.0L482.6 535.6L485.0 536.1L487.4 536.6L489.7 537.1L492.1 537.5L494.4 537.8L496.7 538.1L499.0 538.3L501.3 538.5L503.5 538.6L505.8 538.7L508.0 538.8L510.2 538.8L512.3 538.8L514.5 538.7L516.6 538.6L518.6 538.5L520.7 538.3L522.7 538.1L524.7 537.9L526.6 537.7L528.5 537.5L530.4 537.2L532.2 536.9L534.0 536.7L535.8 536.4L537.6 536.1L539.3 535.8L541.0 535.5L542.6 535.2L544.2 534.9L545.8 534.6L547.4 534.3L548.9 534.1L550.4 533.8L551.9 533.6L553.4 533.3L554.8 533.1L556.2 532.9L557.6 532.7L559.0 532.6L560.4 532.4L561.8 532.3L563.1 532.2L564.5 532.1L565.8 532.0L567.2 532.0L568.5 532.0L569.8 532.0L571.2 532.0L572.5 532.1L573.9 532.2L575.2 532.3L576.6 532.4L578.0 532.6L579.4 532.7L580.8 532.9L582.2 533.1L583.6 533.3L585.1 533.6L586.6 533.8L588.1 534.1L589.6 534.3L591.2 534.6L592.8 534.9L594.4 535.2L596.0 535.5L597.7 535.8L599.4 536.1L601.2 536.4L603.0 536.7L604.8 536.9L606.6 537.2L608.5 537.5L610.4 537.7L612.3 537.9L614.3 538.1L616.3 538.3L618.4 538.5L620.4 538.6L622.5 538.7L624.7 538.8L626.8 538.8L629.0 538.8L631.2 538.7L633.5 538.6L635.7 538.5L638.0 538.3L640.3 538.1L642.6 537.8L644.9 537.5L647.3 537.1L649.6 536.6L652.0 536.1L654.4 535.6L656.7 535.0L659.1 534.3L661.5 533.5L663.9 532.7L666.2 531.8L668.6 530.9L670.9 529.9L673.2 528.8L675.5 527.7L677.8 526.5L680.0 525.2L682.3 523.8L684.4 522.4L686.6 521.0L688.7 519.4L690.8 517.8L692.8 516.1L694.8 514.4L696.7 512.6L698.6 510.7L700.4 508.8L702.2 506.8L703.9 504.8L705.5 502.7L707.1 500.5L708.6 498.3L710.0 496.1L711.3 493.8L712.6 491.4L713.8 489.0L714.9 486.6L716.0 484.2L716.9 481.7L717.8 479.1L718.5 476.6L719.2 474.0L719.8 471.4L720.3 468.8L720.8 466.1L721.1 463.5L721.3 460.8L721.5 458.2L721.5 455.5Z" stroke="#888888" stroke-width="2.4"/>
<path d="M457.6 391.4L452.2 387.0L453.3 386.3L461.5 390.0L460.1 387.7L461.6 387.4L457.2 383.2L458.8 382.9L459.6 382.0L470.6 388.2L459.0 378.8L467.5 383.4L466.6 381.5L471.7 383.9L471.9 382.7L469.6 379.6L468.8 377.6L472.9 379.4L473.8 378.8L471.1 375.2L475.5 377.5L478.4 378.6L474.9 374.1L478.2 375.6L482.2 377.8L479.1 373.6L480.4 373.3L481.9 373.3L483.9 373.8L479.6 368.1L478.4 365.4L483.3 368.8L485.0 369.1L482.5 364.9L480.2 360.8L484.6 363.9L501.6 381.2L480.5 356.0L486.2 360.9L490.2 363.9L490.6 362.7L491.4 361.9L488.4 356.6L496.0 364.4L492.8 358.6L492.9 357.0L496.8 360.4L494.7 355.8L495.5 355.1L499.5 358.7L497.1 353.5L498.3 353.3L499.0 352.4L498.1 349.1L497.4 346.1L503.9 354.1L500.5 346.6L501.6 346.3L507.1 353.4L503.8 345.7L506.5 348.1L505.9 344.9L507.7 345.8L508.7 345.3L509.4 344.3L511.8 346.6L511.7 344.1L513.8 345.7L514.5 344.7L516.2 345.8L516.0 342.8L517.1 342.7L518.5 343.2L519.1 342.0L519.4 339.7L519.8 338.0L523.3 343.6L523.1 340.3L524.5 340.8L525.9 341.4L527.9 343.9L527.4 339.5L530.0 343.8L529.7 339.6L530.3 337.8L533.0 342.9L533.1 339.6L534.8 341.8L535.1 339.1L535.5 336.6L536.0 334.3L539.0 341.3L539.6 339.5L539.8 336.2L540.4 333.7L542.0 336.2L543.7 339.0L544.4 337.2L545.6 337.5L546.8 338.4L548.0 339.0L548.5 336.2L549.7 336.6L550.8 336.8L551.6 335.6L553.0 337.9L553.8 336.2L554.3 330.7L555.6 333.1L556.8 334.0L557.6 330.6L558.7 330.7L559.7 329.3L560.9 331.0L562.0 330.7L563.1 331.8L564.1 330.2L565.2 329.3L566.3 331.9L567.4 332.6L568.5 331.8L569.6 333.7L570.6 333.8L571.7 334.8L572.7 334.7L573.8 333.4L574.9 334.0L576.0 332.2L577.1 332.2L578.3 330.5L579.3 332.1L580.4 332.1L581.7 329.6L582.7 331.0L583.9 330.1L585.0 330.3L586.2 329.7L587.3 329.6L588.4 329.6L589.4 330.6L590.4 331.2L591.5 331.3L592.7 330.8L593.3 333.5L593.8 336.5L594.4 338.9L595.4 338.8L596.4 339.4L596.9 341.7L598.3 340.3L599.3 340.6L600.4 340.4L601.4 340.8L602.1 342.2L603.1 342.2L604.6 341.0L605.2 342.5L606.5 341.9L607.6 341.9L607.8 344.7L609.2 343.6L610.2 343.9L611.4 343.9L612.4 344.0L613.2 344.8L614.4 344.7L614.7 346.7L616.1 346.0L616.8 347.0L617.9 347.1L618.5 348.2L619.7 348.2L620.8 348.3L621.6 349.0L622.5 349.4L623.8 349.3L624.6 350.0L625.6 350.3L626.2 351.5L627.3 351.6L627.7 352.9L628.0 354.5L627.6 357.1L629.3 356.2L629.1 358.6L629.8 359.3L631.1 359.1L632.3 359.1L633.6 359.0L633.9 360.3L634.5 361.3L636.0 360.9L638.2 359.6L638.5 360.9L639.0 361.9L640.7 361.4L640.8 363.0L643.1 361.7L641.9 364.9L643.4 364.6L644.2 365.3L643.8 367.3L646.0 366.4L647.3 366.5L648.0 367.2L648.8 367.9L650.2 367.9L650.6 369.0L651.6 369.4L651.5 371.1L651.8 372.2L651.3 374.1L653.0 373.9L652.7 375.6L652.4 377.2L654.0 377.2L655.7 377.0L655.8 378.2L655.1 380.2L656.5 380.4L656.5 381.6L657.1 382.5L657.6 383.3L656.7 385.4L659.2 384.6L659.2 385.9L660.1 386.5L660.4 387.5L661.7 387.8L662.8 388.3L664.5 388.3L665.8 388.6L665.0 390.4L666.2 390.8L665.4 392.6L665.0 394.0L666.7 394.1L667.1 395.1L666.9 396.4L667.5 397.2L668.1 398.0L667.1 399.7L666.6 401.1L667.8 401.6L667.9 402.7L668.3 403.5L669.5 404.0L670.4 404.7L669.9 406.0L670.9 406.7L672.0 407.3L672.6 408.1L673.6 408.7L673.4 409.9L674.5 410.5L676.2 410.9L675.6 412.2L675.1 413.5L675.9 414.3L676.7 415.0L677.1 416.0L675.6 417.6L679.6 417.3L674.8 419.9L678.2 419.8L677.1 421.3L675.1 422.9L679.9 422.5L678.7 423.9L674.7 426.0L679.1 425.9L676.0 427.7L672.6 429.5L673.5 430.3L674.8 431.0L674.2 432.1L669.9 433.9L664.7 435.9L659.4 437.8L654.2 439.6L648.9 441.3L651.9 441.6L654.9 441.8L657.9 442.1L660.8 442.5L663.8 442.9L666.8 443.4L670.7 443.9L670.2 444.8L675.1 445.2L675.6 446.1L678.7 446.8L677.2 447.9L680.2 448.7L678.3 449.7L683.3 450.5L679.7 451.6L677.1 452.7L680.8 453.5L679.9 454.5L682.0 455.5L679.6 456.5L680.2 457.5L686.5 458.6L673.9 459.2L677.9 460.3L675.7 461.1L676.8 462.1L673.1 462.8M677.4 465.0L674.7 465.7L678.5 467.1L673.7 467.5M681.6 470.4L673.8 470.3L674.7 471.4L677.3 472.7L677.3 473.7L678.6 474.9L678.9 476.0M682.6 478.7L687.4 480.8L685.6 481.5L678.4 480.9L682.6 482.9L681.6 483.7L684.5 485.5L683.6 486.3L688.8 488.9M688.5 491.0L686.8 491.7L686.3 492.6L686.0 493.7L686.4 494.9M681.4 498.8L680.7 499.7L680.7 500.8L680.5 501.9L676.6 501.4M679.4 506.0L681.1 508.0L679.2 508.3L678.7 509.3M676.4 510.5L675.7 511.3L676.7 513.0M673.9 513.9L667.8 511.7L665.9 511.8M668.3 517.9L669.2 519.7M666.2 520.2L663.8 519.8L664.3 521.4L664.1 522.5L661.8 522.0M660.1 523.3L661.4 525.5L660.4 526.0L658.3 525.6L657.4 526.2M656.8 528.3L657.4 530.1L655.5 529.8L653.2 529.2M653.7 532.2L652.8 532.7L652.5 533.8L649.0 531.9L648.8 533.0M651.3 538.3L645.0 533.3M644.9 536.0L645.4 538.0L642.4 536.2L642.6 537.8L643.3 540.0L641.3 539.3M637.7 538.0L636.2 537.6M634.3 542.9L632.9 542.6M629.5 541.0L631.3 545.1L630.2 545.3L628.8 545.0L628.6 546.3L626.4 544.7L624.2 542.9L623.2 543.1M625.5 550.3L624.6 550.7L627.3 557.4L625.3 555.9L626.5 560.1L624.4 558.5L624.1 560.0L624.2 562.5L623.1 562.6L620.7 560.3M617.3 560.2L619.0 566.3L616.3 562.9L615.8 564.4L615.2 565.6M614.2 568.6L613.1 568.7M610.7 568.4L608.8 566.3L608.8 569.3L608.8 572.4M604.8 574.4L604.0 575.2L602.0 572.3L601.3 573.6L600.8 576.2L599.4 575.1L598.1 574.2L598.0 578.6M594.0 575.3L593.2 576.8L591.3 572.8L590.7 575.4L589.5 574.5L589.5 581.2L588.0 578.7L586.5 576.2L585.3 574.9L583.5 569.6L583.2 575.0L582.3 576.9M577.1 578.9L576.2 581.5M574.0 580.5L572.9 582.6L571.7 576.9L570.7 579.1L569.6 578.3L568.5 572.3L567.4 575.9L566.5 572.3L565.6 567.8L564.4 572.2L563.5 570.9M561.5 570.1L560.2 574.3L559.4 571.0L558.3 572.5M556.5 570.1L555.0 574.2M547.5 568.6L546.5 568.5L545.5 568.4M540.8 570.9L539.8 570.7L539.1 569.1M537.0 569.2L535.9 569.3M532.3 570.2L532.8 565.3L530.0 570.7L530.4 566.0L529.7 565.0L529.4 562.9M525.2 568.4L524.4 567.6L523.0 568.2L522.8 565.9M519.4 568.5L519.4 565.7L516.8 568.9L517.2 565.5L517.0 563.5L515.9 563.3L516.5 559.8L515.4 559.7L514.8 558.6L513.0 559.9M511.4 558.6L510.0 558.8L512.1 553.2L510.5 554.0L509.3 554.0L510.3 550.5L508.3 551.8L506.0 553.6L504.5 554.1L503.5 553.7M502.5 551.6L500.0 553.3M499.9 549.9L497.9 550.9L500.0 546.4L498.9 546.2L497.2 546.7M494.4 547.0L494.1 545.8L493.0 545.4L495.1 541.5L493.7 541.5L490.5 543.7L491.3 541.2M482.8 541.2L480.6 541.9L481.9 539.1L479.5 540.0L480.8 537.3M483.0 532.5L484.3 530.0L481.5 531.1L484.7 527.1M482.8 524.9L477.6 527.8L475.8 527.9L479.9 523.5L476.1 525.2L480.4 520.7L476.2 522.6L478.8 519.5M477.8 517.9L479.5 515.5L473.2 518.6M472.5 516.7L469.5 517.4L469.9 515.9L469.7 514.9" stroke="#696969" stroke-width="2"/>
<path d="M489.0 409.6L486.9 407.4L497.7 412.9L487.6 405.9L492.4 407.9L495.2 408.8L511.2 418.3L498.7 409.3L496.9 407.2L493.8 404.2L495.7 404.5L495.9 403.7L502.8 407.8L503.5 407.4L495.2 400.3L497.4 401.0L493.6 397.0L497.4 398.9L504.5 403.7L498.6 397.9L501.1 399.0L502.5 399.2L505.0 400.3L503.2 397.7L504.7 398.0L500.6 393.3L504.4 395.8L500.1 390.6L508.2 397.3L504.7 392.8L504.4 391.4L509.2 395.1L509.3 394.1L505.3 388.9L506.2 388.7L525.1 408.1L508.3 388.6L512.2 391.9L511.0 389.3L513.6 391.3L512.6 388.9L510.4 385.0L514.6 388.9L512.3 384.9L517.2 389.8L516.2 387.4L518.9 389.7L517.9 387.1L518.0 386.0L519.1 386.3L519.2 385.1L518.0 382.0L518.6 381.5L522.8 386.4L520.1 381.0L525.0 387.2L524.6 385.2L523.5 382.1L523.8 381.1L525.6 382.6L525.7 381.3L525.6 379.6L527.2 381.0L528.6 382.0L527.6 378.5L528.5 378.7L530.0 380.0L530.2 378.6L530.8 378.1L531.2 377.3L531.8 376.7L532.8 377.2L532.1 373.7L533.8 375.7L534.6 375.5L535.2 375.1L536.1 375.4L535.8 372.5L537.9 375.8L538.3 374.7L538.1 371.8L539.3 373.0L537.5 365.4L538.7 366.3L539.7 366.8L541.2 368.9L541.0 365.7L542.0 366.1L543.3 367.7L544.6 369.3L545.9 371.0L544.9 364.1L546.8 368.3L547.5 367.9L546.5 360.3L547.7 361.9L549.7 367.1L549.5 361.9L550.3 361.9L550.4 357.8L552.8 366.7L552.8 361.8L553.4 360.2L553.5 354.9L555.2 360.6L556.7 365.7L557.0 361.5L557.1 355.8L557.7 353.1L558.4 350.8L559.6 353.5L560.5 354.1L561.0 348.8L562.3 353.4L563.3 355.8L564.2 356.9L565.0 354.7L566.1 363.0L566.9 364.1L567.7 362.3L568.5 363.7L569.3 365.5L570.1 366.4L570.9 364.3L571.8 361.8L572.5 363.8L573.2 365.2L574.1 363.8L574.2 373.3L575.1 372.3L575.9 370.4L576.5 372.5L577.3 371.8L578.2 370.3L578.4 375.1L579.4 372.7L579.5 377.0L580.6 374.6L582.5 367.0L582.7 370.4L584.3 365.8L585.2 365.1L585.3 369.3L587.0 364.5L587.6 365.8L588.6 364.8L588.6 368.4L589.2 369.2L590.4 367.6L591.4 367.1L593.2 363.5L593.6 364.9L594.2 366.0L595.4 364.7L597.7 360.1L597.3 364.3L599.8 359.2L598.5 365.7L599.6 365.2L601.4 362.6L601.5 364.8L600.8 369.0L602.6 366.8L602.5 369.1L606.1 362.5L606.4 364.0L606.0 367.1L607.8 365.2L607.6 367.6L608.4 367.9L608.5 369.7L608.8 370.9L610.9 368.5L612.2 367.9L612.9 368.4L614.4 367.3L613.1 371.6L611.8 375.8L614.0 373.4L616.5 370.7L616.9 371.7L618.9 369.9L620.6 368.8L621.1 369.7L621.5 370.7L621.0 373.1L625.6 367.5L624.6 370.7L624.3 372.8L624.3 374.3L626.7 372.3L630.6 368.4L629.1 372.0L625.3 378.8L628.8 375.5L630.3 375.0L631.5 374.9L630.6 377.4L630.0 379.5L633.3 376.8L631.4 380.6L628.6 385.2L631.7 382.9L632.7 383.0L635.6 381.0L635.0 383.0L632.3 387.1L635.0 385.4L635.2 386.4L633.3 389.6L632.9 391.1L638.5 386.7L639.6 386.8L640.1 387.5L636.7 391.9L642.0 388.1L643.0 388.5L643.3 389.3L646.3 387.9L644.1 390.9L649.5 387.5L650.6 387.9L649.3 390.1L651.7 389.3L651.3 390.8L650.4 392.7L652.8 392.0L652.0 393.7L650.8 395.7L654.1 394.5L658.4 392.6L656.1 395.3L662.0 392.5L663.5 392.6L658.4 397.1L661.0 396.6L663.7 396.0L658.1 400.6L657.3 402.1L658.9 402.3L657.8 404.0L658.2 404.7L662.9 403.2L662.0 404.7L664.2 404.6L664.9 405.3L661.6 408.1L663.6 408.1L664.0 408.9L664.8 409.6L665.4 410.3L669.2 409.6L668.0 411.2L669.3 411.7L671.3 411.9L671.2 413.0L666.3 416.0L666.1 417.0L669.0 416.9L671.0 417.2L673.3 417.3L668.4 420.1L669.9 420.6L673.1 420.5L676.3 420.5L675.9 421.6L669.7 424.5L673.6 424.4L672.5 425.7L677.0 425.4L675.8 426.7L674.5 428.1L673.0 428.3L701.7 428.3L792.5 417.4L750.0 427.0L789.3 421.0L758.9 427.9L720.8 434.8L699.2 440.5L686.5 446.9L684.1 448.4L681.9 449.6L683.9 450.5L682.7 451.5L684.9 452.5L685.3 453.5L684.8 454.5L690.0 455.5L687.1 456.5L686.4 457.6L688.6 458.6M687.0 460.7L691.1 461.9L692.1 463.1L692.4 464.2L694.3 465.4L690.0 466.1L692.1 467.4L691.5 468.4L685.0 468.8L685.7 469.9L691.2 471.6L682.1 471.5L690.7 473.8M686.3 475.2L678.9 475.0M674.2 477.0L677.8 478.7M678.0 480.8L674.4 480.9L678.6 482.9L674.2 482.8L671.1 483.0L664.7 482.2L669.9 484.6M664.6 484.9L667.4 486.7L665.6 487.0L663.9 487.4M666.5 490.2L667.4 491.5L666.5 492.1L666.4 493.1L667.9 494.7L671.0 496.9M666.2 504.2L666.2 505.3M666.9 507.8L664.2 507.5M663.1 510.1L663.0 511.1L663.7 512.7L665.4 514.9M666.7 518.1L664.8 518.0L662.9 518.0L661.4 518.2L656.8 516.2L652.8 514.5M655.5 519.9L652.7 519.0L654.3 521.4L659.0 526.2L657.5 526.3L657.3 527.4L655.0 526.8L657.8 530.5M659.5 534.6L656.2 533.1L657.2 535.4L654.7 534.5L655.9 537.0L657.0 539.5L654.9 539.0M651.3 542.7L647.8 540.6L648.9 543.2M643.1 539.8L642.5 540.6L642.9 542.6L645.3 547.0L641.5 544.0L641.5 545.7L641.7 547.5L641.3 548.7L640.1 548.9L643.2 554.7M639.5 555.1L637.7 554.3L637.4 555.8L635.6 555.0L645.1 571.2L654.1 587.2L641.9 570.8L634.0 560.3L631.7 558.6M629.9 559.8L626.7 556.3M624.9 559.3L622.1 556.3M616.1 548.9L619.2 557.3L615.4 551.6L613.8 550.5L611.9 548.6L611.4 549.5L613.6 556.8M610.9 555.3L610.4 556.6L607.5 552.1M605.9 555.4L602.3 548.2L603.0 552.9L603.7 557.7M601.5 557.0L599.6 554.1M598.0 555.0L596.4 552.7L595.0 551.0L592.3 544.4L592.8 549.4L592.9 553.5L591.4 550.8M590.2 553.6L588.9 551.5L588.2 552.4M586.5 552.8L585.4 551.3L584.5 551.3M581.0 550.1L580.7 555.0M577.7 560.6L575.6 545.8L575.0 548.1L574.7 557.2L573.6 553.2L572.8 553.6L571.9 552.2M570.2 553.6L569.3 548.3L568.5 552.4L567.6 556.6L566.8 552.8L566.0 550.9L565.2 550.5L564.2 553.4L563.7 547.6L562.9 547.6M561.1 549.7L559.9 553.4M558.1 540.1L556.6 546.0L555.6 547.2L555.0 545.6M553.1 547.7L551.8 550.2L551.4 547.5L551.2 544.8L550.0 546.6L547.8 552.9L547.0 552.4M547.8 541.8L547.0 541.8L545.9 542.9L545.2 542.4L544.0 543.9M541.9 539.8L536.4 554.4L537.9 546.9L537.7 544.9L539.4 537.7M535.2 544.7L534.9 543.1L538.3 532.1M531.5 544.8L530.6 544.7L532.2 539.0M529.6 540.8L528.0 542.3L526.2 544.2L528.1 538.4L526.7 539.3L527.2 536.5L528.2 532.9M522.6 540.1L520.7 541.7L522.7 536.4L521.8 536.4L522.4 533.8M520.4 534.0L518.4 535.6L518.9 533.4L517.5 534.1M514.9 534.9L511.2 538.9M515.5 527.1L513.2 528.9L515.6 524.5L506.7 534.6M512.4 524.8L512.1 524.0L504.0 532.3L505.0 529.9L505.5 528.0L509.1 522.7L507.5 523.2L507.9 521.6L502.2 526.6L505.7 521.7L498.3 528.2L501.5 523.7L503.2 520.8L498.3 524.5L505.6 516.2L501.1 519.4M497.4 518.4L502.7 512.7L498.8 515.0L500.5 512.5L493.1 517.6L495.3 514.7L490.8 517.3L486.9 519.3L491.7 514.4L488.1 516.1L490.4 513.3M488.2 511.7L487.2 511.4L490.2 508.3L483.9 511.5M488.6 503.5L491.4 500.9L498.2 496.1" stroke="#ff0000" stroke-width="2"/>
<path d="M479.2 403.9L477.9 402.1L477.7 400.9L483.3 403.3L479.4 399.8L481.4 400.0L509.5 417.2L482.8 398.8L480.6 396.2L486.2 398.9L479.5 393.2L481.8 393.6L487.0 396.3L484.2 393.2L486.0 393.3L491.7 396.6L484.0 389.5L487.2 390.8L486.0 388.7L487.6 388.8L487.3 387.3L488.4 387.1L489.3 386.6L495.8 391.2L494.0 388.4L496.6 389.6L496.7 388.5L494.5 385.3L492.6 382.2L492.3 380.6L495.5 382.5L497.1 382.8L498.3 382.8L496.0 379.1L494.9 376.6L523.4 406.2L499.0 378.3L500.3 378.4L498.3 374.7L506.8 383.2L506.8 382.0L503.0 376.1L500.3 371.2L503.8 374.2L502.3 370.8L507.2 375.7L508.8 376.3L508.7 374.7L506.8 370.6L506.7 368.8L510.3 372.4L509.3 369.4L511.3 370.7L510.5 367.9L512.8 369.7L512.5 367.6L513.9 368.2L513.8 366.3L515.3 366.9L516.0 366.4L515.5 363.7L517.3 364.9L517.6 363.7L518.8 364.0L518.6 361.7L521.8 365.8L520.9 362.1L520.6 359.5L523.6 363.5L522.0 358.0L521.8 355.3L523.9 357.6L526.7 361.6L528.1 362.6L527.1 358.1L526.3 353.6L529.0 357.8L530.0 357.7L531.7 359.7L532.9 360.3L532.8 357.5L535.4 361.9L535.2 358.9L535.4 356.5L536.5 357.0L536.8 355.0L538.5 357.4L537.7 351.5L538.5 350.9L540.8 355.6L541.2 353.8L541.9 352.5L541.9 348.7L543.4 351.1L544.4 351.1L545.6 352.2L546.2 350.4L547.0 349.7L548.5 352.5L549.8 354.4L549.6 348.5L550.9 350.2L551.8 349.9L552.7 349.6L553.9 351.7L555.0 352.9L555.0 345.6L555.9 345.3L556.9 344.7L558.1 347.3L559.1 348.2L560.2 350.6L561.1 349.1L562.0 349.0L563.0 350.1L563.8 348.7L564.6 344.8L565.8 354.3L566.6 349.0L567.6 349.4L568.5 355.0L569.4 351.4L570.3 353.3L571.1 354.5L572.1 353.4L572.9 355.8L574.2 346.6L575.3 344.2L576.2 345.8L576.7 351.3L577.7 350.3L578.6 351.0L579.0 355.8L580.0 354.5L581.2 351.7L581.7 355.4L581.9 359.9L582.8 359.9L584.4 354.9L585.2 355.7L586.1 355.6L587.7 351.8L588.2 354.4L588.7 356.3L590.0 354.6L592.3 348.4L591.2 357.1L594.0 349.4L594.8 349.8L595.0 353.2L596.0 352.9L598.0 349.0L598.2 352.1L598.6 353.9L601.5 347.7L600.8 353.0L601.2 354.8L601.9 355.8L602.5 356.9L604.3 354.4L604.7 356.1L606.7 353.2L608.6 350.9L609.7 351.0L610.6 351.2L611.7 351.2L611.2 355.0L610.5 359.0L612.9 355.7L610.8 362.7L612.5 361.2L614.6 358.8L613.7 362.7L618.2 355.8L616.1 362.1L616.3 363.6L618.1 362.3L618.0 364.3L619.6 363.3L620.6 363.4L623.1 361.0L622.4 364.0L624.1 363.0L624.4 364.3L627.3 361.4L626.6 364.2L625.6 367.5L631.2 360.8L627.7 367.7L627.8 369.3L632.9 363.5L635.7 361.3L633.1 366.5L635.2 365.3L638.5 362.6L641.5 360.3L638.8 365.6L640.4 365.2L639.4 368.0L645.3 362.3L641.9 368.0L643.4 367.9L644.1 368.5L642.2 372.2L645.1 370.5L643.7 373.5L650.7 367.3L647.8 371.9L649.1 372.1L652.8 369.7L649.2 374.8L656.2 369.3L657.0 370.0L653.8 374.6L656.7 373.2L657.2 374.2L659.8 373.3L658.9 375.5L658.3 377.5L662.3 375.4L663.0 376.2L664.2 376.6L667.1 375.6L667.9 376.4L667.2 378.4L664.3 382.0L669.2 379.6L668.2 381.7L672.5 380.0L670.7 382.6L674.9 381.0L673.3 383.5L672.4 385.4L673.8 385.8L669.6 389.8L675.6 387.3L674.8 389.1L671.6 392.3L675.5 391.2L675.3 392.6L674.7 394.2L674.0 395.8L677.2 395.2L678.8 395.6L677.1 397.8L676.9 399.1L676.7 400.4L677.4 401.2L680.9 400.7L679.8 402.4L678.5 404.2L684.2 402.8L687.6 402.5L684.3 405.2L688.0 404.8L685.3 407.1L681.7 409.8L685.5 409.4L685.3 410.6L688.7 410.6L679.9 414.9L690.5 412.3L691.7 413.1L686.8 415.9L691.8 415.4L687.9 417.8L688.4 418.8L691.8 419.0L693.4 419.7L690.9 421.6L692.8 422.2L692.2 423.5L695.4 426.0L708.0 426.0L718.2 424.7L791.0 417.6L745.0 427.5L790.6 421.5L746.2 429.8L723.3 434.8L711.9 439.3L705.5 443.0L703.0 448.2L696.6 447.7L705.2 448.3L696.5 449.9L700.6 450.9L694.7 452.2L701.6 453.2L708.7 454.3L698.3 455.5L707.2 456.7L696.1 457.7L703.0 459.0L698.1 460.0L702.2 461.3L700.9 462.4L704.4 463.8L701.7 464.8L700.1 465.9L696.0 466.7L698.5 468.0L693.2 468.6L693.4 469.7L692.1 470.7L696.6 472.4L703.3 474.4L694.3 474.3L701.1 476.5L692.4 476.2L694.5 477.7L698.9 479.7M692.5 483.0L697.5 485.3L693.8 485.6L683.3 484.1L689.4 486.8L690.5 488.2L691.7 489.7L692.0 490.9L688.7 491.1L694.4 494.0M689.5 494.8L691.4 496.6M691.1 498.9L689.7 499.6M686.1 500.7L685.5 501.6L686.1 503.0L689.1 505.5L687.8 506.2L683.9 505.7L682.8 506.4M683.6 510.4L685.2 512.4M691.7 521.0L682.8 517.6L682.4 518.7L682.1 519.8L679.1 519.4L681.3 521.9L679.3 522.1L677.7 522.4L676.5 523.0L675.6 523.7L678.0 526.6L675.9 526.6L677.2 528.8L677.6 530.5L676.4 531.1M676.5 534.0L676.3 535.2L675.6 536.2L673.0 535.7L669.9 534.7M666.0 535.9L667.9 538.9M666.4 540.6L664.3 540.2M659.9 539.3L663.8 544.3L661.9 544.1L660.7 544.6L662.8 548.2L663.6 550.6M660.6 550.8L660.7 552.6L659.5 553.0M654.3 550.7L655.5 553.8L656.7 557.0L654.0 555.6L655.0 558.6L650.6 555.1L651.9 558.5L650.2 558.2L653.8 564.7L651.2 563.3L650.3 564.1L648.7 563.9L649.3 566.8L647.3 566.0L643.5 562.6M640.1 561.6L648.4 576.3L659.1 594.9L645.2 575.9L635.6 562.8L634.3 562.9L634.8 565.9L635.4 569.1L632.6 566.5L630.2 564.6L626.4 559.9L624.0 557.8L627.2 565.9L625.9 565.8L626.4 569.1L624.3 567.5L622.6 566.4L622.9 569.6L622.1 570.4L617.9 563.8L618.3 567.4L617.1 567.2M614.0 565.4L612.6 564.7L612.9 568.2L611.7 568.0L607.9 560.9L608.3 565.0M607.1 567.6L604.7 563.6L604.5 566.2L602.5 563.4L602.6 567.1L600.3 562.7L601.1 569.2L600.1 569.6L599.6 571.4L598.1 570.0L597.1 570.1L595.7 568.7M591.8 560.4L592.1 566.7L590.4 563.0L588.5 558.2L589.8 570.4L588.1 566.4L586.4 562.3L586.2 567.1L585.3 568.1L584.3 567.7L583.7 570.6L581.9 564.5L581.6 570.4M579.4 568.6L578.4 568.7L577.2 565.9L576.8 573.8L575.0 562.1L574.2 563.8L573.4 566.9M570.4 564.5L569.5 569.6L568.5 563.6L567.5 567.2L566.5 568.1L565.6 566.5M563.6 566.9L562.4 572.1L561.5 570.7L561.1 561.2L560.0 563.9L558.9 564.8L558.2 562.6L556.8 567.0M553.3 563.6L552.6 561.8L552.4 556.9L551.3 558.3L550.1 559.8L548.2 565.3M547.2 560.4L545.4 564.0L544.7 562.7L544.5 559.7L544.0 557.8L544.2 552.8L543.6 551.9L542.2 553.5L540.2 557.6M537.9 558.8L537.3 557.6L536.5 557.1L536.4 554.1L536.7 550.5L534.3 554.7L535.2 549.4L535.8 545.5L533.0 550.6L532.0 550.5L528.8 556.2L530.7 549.1L529.4 550.0L530.2 545.7L527.4 550.0L527.2 548.4L527.6 545.2L525.9 546.9L526.4 543.7M523.7 545.4L521.9 547.0L522.5 543.9L521.1 544.6L520.1 544.7L518.2 546.3L518.4 544.1M516.3 544.1L516.8 541.5L514.9 542.9L512.6 545.0L512.3 543.7L513.9 539.5L511.8 541.2L509.3 543.2L507.7 543.9M509.7 536.4L506.6 539.1L508.5 535.2L502.6 541.4L503.4 538.8L502.1 539.0L501.3 538.4L503.6 534.2L505.8 530.2M499.6 534.8L503.4 529.1M496.9 533.7L494.8 534.6L497.7 530.1L499.9 526.5L497.1 528.2L493.5 530.5L499.2 523.6L495.0 526.5M490.9 526.6L495.2 521.5L489.4 525.5L485.1 528.0L485.5 526.4L488.2 522.9L485.8 523.7L485.0 523.1L486.2 521.0L487.5 518.8L486.5 518.4L486.7 517.2L484.4 517.7L483.4 517.3L481.6 517.5L480.7 517.0L481.3 515.4L484.2 512.3L476.7 516.3L479.3 513.4L472.2 516.8L476.0 513.3L470.7 515.4L475.0 511.7L472.9 511.8L475.8 509.0" stroke="#00ff00" stroke-width="2"/>
<path d="M480.7 404.8L477.0 401.6L478.0 401.1L476.2 398.9L482.9 402.0L475.6 396.3L507.3 415.8L483.6 399.3L483.7 398.3L485.8 398.7L485.0 397.1L478.8 391.5L478.8 390.3L483.4 392.5L484.7 392.4L476.7 385.0L480.2 386.5L485.5 389.5L485.1 388.0L486.2 387.6L484.0 384.6L482.1 381.7L485.2 383.0L484.2 380.9L484.1 379.5L483.6 377.7L488.6 381.0L488.9 380.0L484.1 374.0L490.9 379.2L490.8 377.8L491.4 377.0L494.6 379.0L495.4 378.4L491.2 372.7L522.0 404.7L500.4 379.9L498.9 376.9L502.4 379.4L503.1 379.0L500.3 374.2L497.0 368.8L500.8 371.9L498.2 367.1L505.1 374.3L503.3 370.5L503.1 368.8L504.2 368.6L502.9 365.2L504.1 365.2L507.7 368.7L509.4 369.5L508.9 367.2L509.0 365.6L510.8 366.6L513.1 368.6L513.7 367.8L511.4 362.3L514.0 364.9L516.0 366.4L515.4 363.6L515.8 362.3L517.7 363.9L518.6 363.6L516.9 358.4L518.4 359.3L518.6 357.5L519.8 357.9L521.2 358.6L523.2 360.6L523.9 359.8L524.8 359.7L524.5 356.7L525.5 356.5L525.7 354.7L525.9 352.7L528.4 356.2L528.6 354.3L530.8 357.3L531.2 355.7L532.3 355.9L531.9 352.0L533.3 353.3L534.3 353.3L534.9 351.9L537.6 357.6L537.0 352.6L537.6 351.3L538.1 349.6L541.2 357.1L541.5 354.7L543.2 357.7L541.8 348.3L543.5 351.3L543.4 346.8L545.1 350.2L545.3 346.1L546.4 347.1L547.5 347.6L548.8 349.3L549.8 349.5L550.8 349.9L552.1 352.3L551.7 343.2L553.4 348.1L554.1 346.4L555.1 346.2L556.0 346.1L557.0 345.8L557.9 345.0L559.0 346.9L559.7 343.7L561.0 347.8L561.7 344.2L562.9 349.4L563.7 344.9L564.6 343.9L565.5 340.9L566.5 341.1L567.5 346.5L568.5 348.0L569.5 341.8L570.4 346.2L571.3 349.6L572.4 343.3L573.3 345.6L574.1 348.5L575.0 349.0L576.3 343.9L576.8 349.6L577.8 348.6L578.8 348.3L580.2 343.7L580.5 350.6L581.8 346.8L582.7 347.9L583.5 348.9L584.5 348.1L585.1 350.9L586.2 349.7L587.1 349.9L588.6 347.0L587.7 356.7L589.8 350.8L591.1 349.2L591.6 351.3L594.1 344.7L594.5 347.1L594.1 352.6L595.6 350.7L597.1 348.9L597.4 351.2L598.0 352.8L600.1 349.0L600.4 351.1L600.6 353.6L601.9 352.8L603.8 349.9L604.6 350.5L603.3 357.2L604.6 356.4L607.2 352.0L607.6 353.6L608.1 355.0L608.3 357.0L610.1 355.2L612.1 352.7L609.4 361.4L613.5 354.5L612.0 360.0L612.6 361.0L614.6 358.7L614.9 360.3L615.9 360.4L618.7 357.0L619.1 358.3L621.9 355.0L619.6 361.3L623.5 356.3L622.0 361.0L624.0 359.4L624.2 360.9L627.2 357.9L624.7 363.7L627.4 361.2L630.3 358.5L631.3 358.9L629.4 363.5L631.4 362.2L632.7 362.1L632.4 364.2L634.7 362.7L634.7 364.4L630.6 371.6L635.9 366.0L641.5 360.3L635.9 369.2L636.6 369.8L638.9 368.6L639.0 369.9L641.2 368.9L642.1 369.3L646.9 365.3L644.1 370.1L645.9 369.5L645.1 372.0L644.7 373.8L647.1 372.7L647.4 373.8L652.9 369.6L651.0 373.0L649.6 375.8L652.6 374.3L657.0 371.5L654.1 375.6L655.2 376.1L656.8 376.0L656.7 377.5L656.4 379.1L662.6 375.1L654.7 383.2L661.2 379.1L661.0 380.6L663.4 380.0L662.1 382.4L666.4 380.3L667.8 380.6L664.5 384.5L662.4 387.2L663.6 387.7L666.2 387.1L665.1 389.1L665.3 390.2L673.7 385.9L672.2 388.2L669.0 391.5L671.3 391.3L674.3 390.6L672.6 392.9L674.6 393.0L676.3 393.2L675.2 395.1L671.8 398.3L673.6 398.4L671.0 401.0L676.0 399.5L680.7 398.3L675.5 402.2L679.3 401.5L681.0 401.8L683.3 402.0L676.5 406.3L679.6 406.0L679.2 407.4L684.5 406.2L684.9 407.3L678.5 411.1L678.9 412.0L681.9 412.0L687.7 410.9L683.3 413.7L687.5 413.4L681.5 416.6L681.4 417.7L687.8 416.7L683.5 419.2L680.7 421.2L689.2 419.8L689.6 420.8L685.4 423.1L691.0 422.7L689.0 424.3L691.6 427.2L703.0 426.8L711.9 426.8L766.5 424.0L722.0 429.5L764.0 425.6L731.0 431.0L711.9 434.8L700.5 439.9L695.4 445.6L695.9 447.7L689.3 449.2L693.8 450.0L694.7 451.1L703.1 452.0L696.9 453.3L694.3 454.4L692.8 455.5L695.8 456.6L697.2 457.7M696.7 460.0L694.4 461.0L700.3 462.4M701.4 464.8L694.7 465.4L698.9 466.9L702.8 468.4L699.6 469.3L694.4 469.8L693.6 470.9L692.6 471.8L693.0 473.0L690.4 473.7L694.0 475.4L691.4 476.1L692.8 477.4L695.6 479.1L696.1 480.3L690.6 480.3L689.5 481.2L694.7 483.5L689.0 483.3L685.7 483.6L690.0 485.8L688.6 486.6M692.2 489.8L695.9 492.0L691.9 492.1M691.7 494.4L688.2 494.4L684.4 494.3M682.9 496.0L682.5 497.0L685.1 499.1L688.3 501.5L683.4 500.8L683.8 502.1L681.7 502.4L684.7 504.8L689.5 508.1L684.4 507.1L687.1 509.5L685.8 510.2L685.4 511.2L688.1 513.8L680.5 511.3L680.5 512.6L676.4 511.7L677.8 513.6L675.5 513.6L676.6 515.4L678.2 517.6L678.1 518.8L678.3 520.2L675.0 519.5L674.0 520.1L673.9 521.4L674.7 523.2L674.0 524.0L671.5 523.7L674.4 526.9L670.7 525.8L672.8 528.5L671.1 528.7L672.2 530.8L672.4 532.4L668.8 531.1L669.9 533.3L671.8 536.2L668.2 534.8M670.7 539.7L664.2 535.8L668.6 541.0L665.3 539.7L666.6 542.2L663.9 541.4L663.3 542.4L661.7 542.4L656.8 539.3L655.9 539.9L658.2 543.6L661.3 548.3L660.1 548.7L660.6 550.9L660.0 551.9L659.5 553.1M652.6 548.9L652.3 550.2L656.1 556.2M653.2 556.5L655.9 561.5M650.3 558.3L649.5 559.2L652.0 564.3L651.7 565.8L649.0 564.3L648.0 565.0L647.5 566.2L646.9 567.5L646.2 568.5L642.4 565.0L647.3 574.6L653.8 586.8L644.1 574.2L637.1 565.2L635.3 564.6L635.0 566.1M629.6 561.4L629.9 564.0L631.3 568.7L629.6 568.0M626.0 565.9L628.4 573.1M624.1 569.5L622.5 568.8L620.3 566.5M612.9 565.5L612.9 568.1L612.7 570.5L610.4 567.5M607.4 565.3L605.1 561.9L607.1 571.0L603.9 564.5L603.7 567.2M602.7 570.9L599.8 564.8L600.3 570.1L598.1 565.8L596.9 565.5L595.8 564.9M593.9 565.7L595.2 576.1L593.3 572.0L592.1 571.3L590.7 569.9L590.1 572.0L588.5 569.2L587.3 567.7M586.2 573.8L584.7 571.1L583.8 572.1L582.0 565.8L581.8 572.0L580.9 573.7L579.6 570.3M576.4 568.9L575.6 571.2M572.4 566.5L571.4 566.8L570.4 566.6L569.5 571.9M567.5 566.2L566.7 559.9L565.5 570.6L564.6 566.7L563.8 562.2L562.7 565.5L561.8 565.6L560.9 564.3L559.9 565.3L559.0 564.0L558.1 563.7L557.5 559.8L556.6 559.9L555.1 564.7L554.4 562.5L552.7 567.6L552.2 564.3L551.7 561.6L551.8 555.2L550.5 557.4M547.3 564.8L547.2 560.1L547.7 553.3L545.4 559.5L544.5 559.5L543.5 559.6L542.8 558.7L543.3 553.0L541.6 556.1L540.2 557.7L538.5 560.2L538.5 556.8L536.2 561.2L535.5 560.2M534.4 554.6L534.7 550.9L534.1 550.1M531.2 547.9L529.3 550.0L527.7 551.6L529.3 545.6L526.2 550.5L526.3 548.1L525.3 548.1L525.0 546.7L521.9 551.0L522.7 547.4L521.7 547.4L519.0 550.6L516.6 553.1L517.1 550.1L516.8 548.8L514.8 550.4L514.5 549.0M513.4 547.2L513.0 546.1L514.8 541.4L514.4 540.4L509.2 546.7L512.1 540.7L512.8 538.2L510.1 540.5L508.3 541.4L506.2 542.9M506.2 539.7L508.3 535.4L505.3 537.9L502.9 539.5L500.0 541.6L502.5 537.0L502.9 535.1L501.5 535.3L502.7 532.5L500.7 533.5L494.0 539.7L494.2 538.0L497.8 532.6M493.4 534.7L493.9 532.8L493.3 532.1L497.2 526.8M494.1 527.3L489.6 530.3L496.1 523.0L488.8 528.5M487.5 527.1L489.6 524.0L485.3 526.6L488.2 522.8L487.9 522.0L487.1 521.4L483.0 523.5L485.9 520.1L482.8 521.2L481.1 521.4L485.1 517.2M484.2 513.5L480.4 515.0L483.2 512.0L482.1 511.6L476.4 514.1L474.1 514.5M481.0 508.1L470.6 513.2L472.8 510.8" stroke="#0000ff" stroke-width="2"/>
</g>
<g fill="none" stroke="#000" stroke-width="1" shape-rendering="crispEdges" stroke-linecap="square">
<path d="M221.30 18.51L221.30 33.50M229.80 18.51L229.80 33.50M229.80 22.79L232.99 19.58L235.11 18.51L238.30 18.51L240.43 19.58L241.49 22.79L241.49 33.50M241.49 22.79L244.68 19.58L246.80 18.51L249.99 18.51L252.12 19.58L253.18 22.79L253.18 33.50M272.87 18.51L272.87 35.64L271.80 38.85L270.74 39.93L268.62 41.00L265.43 41.00L263.30 39.93M272.87 21.72L270.74 19.58L268.62 18.51L265.43 18.51L263.30 19.58L261.18 21.72L260.12 24.93L260.12 27.07L261.18 30.29L263.30 32.43L265.43 33.50L268.62 33.50L270.74 32.43L272.87 30.29M277.68 33.50L296.28 33.50M299.81 24.93L312.56 24.93L312.56 22.79L311.50 20.65L310.43 19.58L308.31 18.51L305.12 18.51L303.00 19.58L300.87 21.72L299.81 24.93L299.81 27.07L300.87 30.29L303.00 32.43L305.12 33.50L308.31 33.50L310.43 32.43L312.56 30.29M318.43 18.51L330.12 33.50M330.12 18.51L318.43 33.50M336.06 18.51L336.06 41.00M336.06 21.72L338.19 19.58L340.31 18.51L343.50 18.51L345.62 19.58L347.75 21.72L348.81 24.93L348.81 27.07L347.75 30.29L345.62 32.43L343.50 33.50L340.31 33.50L338.19 32.43L336.06 30.29M354.06 33.50L372.66 33.50M386.94 18.51L386.94 35.64L385.88 38.85L384.82 39.93L382.69 41.00L379.50 41.00L377.38 39.93M386.94 21.72L384.82 19.58L382.69 18.51L379.50 18.51L377.38 19.58L375.25 21.72L374.19 24.93L374.19 27.07L375.25 30.29L377.38 32.43L379.50 33.50L382.69 33.50L384.82 32.43L386.94 30.29M407.13 18.51L407.13 33.50M407.13 21.72L405.00 19.58L402.88 18.51L399.69 18.51L397.57 19.58L395.44 21.72L394.38 24.93L394.38 27.07L395.44 30.29L397.57 32.43L399.69 33.50L402.88 33.50L405.00 32.43L407.13 30.29M415.93 18.51L415.93 33.50M424.13 18.51L424.13 33.50M424.13 22.79L427.32 19.58L429.44 18.51L432.63 18.51L434.76 19.58L435.82 22.79L435.82 33.50M441.83 33.50L460.43 33.50M466.35 15.29L468.47 14.22L471.66 11.01L471.66 33.50M495.83 18.51L495.83 36.71L494.76 39.93L492.64 41.00L490.51 41.00M505.43 18.51L505.43 41.00M505.43 21.72L507.55 19.58L509.68 18.51L512.86 18.51L514.99 19.58L517.11 21.72L518.18 24.93L518.18 27.07L517.11 30.29L514.99 32.43L512.86 33.50L509.68 33.50L507.55 32.43L505.43 30.29M536.90 18.51L536.90 35.64L535.84 38.85L534.78 39.93L532.65 41.00L529.47 41.00L527.34 39.93M536.90 21.72L534.78 19.58L532.65 18.51L529.47 18.51L527.34 19.58L525.22 21.72L524.15 24.93L524.15 27.07L525.22 30.29L527.34 32.43L529.47 33.50L532.65 33.50L534.78 32.43L536.90 30.29M562.61 16.36L562.61 15.29L563.67 13.15L564.73 12.08L566.86 11.01L571.11 11.01L573.23 12.08L574.30 13.15L575.36 15.29L575.36 17.44L574.30 19.58L572.17 22.79L561.54 33.50L576.42 33.50M596.61 18.51L595.55 21.72L593.42 23.86L590.23 24.93L589.17 24.93L585.98 23.86L583.86 21.72L582.80 18.51L582.80 17.44L583.86 14.22L585.98 12.08L589.17 11.01L590.23 11.01L593.42 12.08L595.55 14.22L596.61 18.51L596.61 23.86L595.55 29.22L593.42 32.43L590.23 33.50L588.11 33.50L584.92 32.43L583.86 30.29M619.75 11.01L616.56 12.08L614.44 15.29L613.37 20.65L613.37 23.86L614.44 29.22L616.56 32.43L619.75 33.50L621.87 33.50L625.06 32.43L627.19 29.22L628.25 23.86L628.25 20.65L627.19 15.29L625.06 12.08L621.87 11.01L619.75 11.01M648.44 18.51L647.38 21.72L645.25 23.86L642.06 24.93L641.00 24.93L637.81 23.86L635.69 21.72L634.63 18.51L634.63 17.44L635.69 14.22L637.81 12.08L641.00 11.01L642.06 11.01L645.25 12.08L647.38 14.22L648.44 18.51L648.44 23.86L647.38 29.22L645.25 32.43L642.06 33.50L639.94 33.50L636.75 32.43L635.69 30.29M667.37 16.36L667.37 15.29L668.43 13.15L669.49 12.08L671.62 11.01L675.87 11.01L677.99 12.08L679.06 13.15L680.12 15.29L680.12 17.44L679.06 19.58L676.93 22.79L666.30 33.50L681.18 33.50M694.03 11.01L690.84 12.08L688.72 15.29L687.66 20.65L687.66 23.86L688.72 29.22L690.84 32.43L694.03 33.50L696.16 33.50L699.34 32.43L701.47 29.22L702.53 23.86L702.53 20.65L701.47 15.29L699.34 12.08L696.16 11.01L694.03 11.01M709.27 16.36L709.27 15.29L710.33 13.15L711.40 12.08L713.52 11.01L717.77 11.01L719.90 12.08L720.96 13.15L722.02 15.29L722.02 17.44L720.96 19.58L718.83 22.79L708.21 33.50L723.08 33.50M741.71 11.01L731.09 11.01L730.02 20.65L731.09 19.58L734.27 18.51L737.46 18.51L740.65 19.58L742.77 21.72L743.84 24.93L743.84 27.07L742.77 30.29L740.65 32.43L737.46 33.50L734.27 33.50L731.09 32.43L730.02 31.36L728.96 29.22M768.78 6.73L749.65 41.00M780.06 11.01L776.88 12.08L774.75 15.29L773.69 20.65L773.69 23.86L774.75 29.22L776.88 32.43L780.06 33.50L782.19 33.50L785.38 32.43L787.50 29.22L788.57 23.86L788.57 20.65L787.50 15.29L785.38 12.08L782.19 11.01L780.06 11.01M809.52 11.01L798.89 33.50M794.64 11.01L809.52 11.01M829.11 15.29L831.23 14.22L834.42 11.01L834.42 33.50M859.92 11.01L849.30 11.01L848.23 20.65L849.30 19.58L852.48 18.51L855.67 18.51L858.86 19.58L860.99 21.72L862.05 24.93L862.05 27.07L860.99 30.29L858.86 32.43L855.67 33.50L852.48 33.50L849.30 32.43L848.23 31.36L847.17 29.22M882.24 15.29L884.36 14.22L887.55 11.01L887.55 33.50M903.49 15.29L905.61 14.22L908.80 11.01L908.80 33.50"/>
<path d="M143.22 891.79L158.64 891.79M173.21 881.50L164.64 893.50L177.50 893.50M173.21 881.50L173.21 899.50"/>
<path d="M347.22 891.79L362.64 891.79M369.50 885.79L369.50 884.93L370.36 883.22L371.21 882.36L372.93 881.50L376.35 881.50L378.07 882.36L378.93 883.22L379.78 884.93L379.78 886.64L378.93 888.36L377.21 890.93L368.64 899.50L380.64 899.50"/>
<path d="M566.64 881.50L564.07 882.36L562.36 884.93L561.50 889.22L561.50 891.79L562.36 896.07L564.07 898.64L566.64 899.50L568.36 899.50L570.93 898.64L572.64 896.07L573.50 891.79L573.50 889.22L572.64 884.93L570.93 882.36L568.36 881.50L566.64 881.50"/>
<path d="M766.36 885.79L766.36 884.93L767.21 883.22L768.07 882.36L769.79 881.50L773.21 881.50L774.93 882.36L775.78 883.22L776.64 884.93L776.64 886.64L775.78 888.36L774.07 890.93L765.50 899.50L777.50 899.50"/>
<path d="M978.07 881.50L969.50 893.50L982.36 893.50M978.07 881.50L978.07 899.50"/>
<path d="M115.61 855.79L131.03 855.79M145.60 845.50L137.03 857.50L149.89 857.50M145.60 845.50L145.60 863.50"/>
<path d="M115.61 661.79L131.03 661.79M137.89 655.79L137.89 654.93L138.75 653.22L139.60 652.36L141.32 651.50L144.74 651.50L146.46 652.36L147.31 653.22L148.17 654.93L148.17 656.64L147.31 658.36L145.60 660.93L137.03 669.50L149.03 669.50"/>
<path d="M142.17 447.50L139.60 448.36L137.89 450.93L137.03 455.22L137.03 457.79L137.89 462.07L139.60 464.64L142.17 465.50L143.89 465.50L146.46 464.64L148.17 462.07L149.03 457.79L149.03 455.22L148.17 450.93L146.46 448.36L143.89 447.50L142.17 447.50"/>
<path d="M137.89 247.79L137.89 246.93L138.74 245.22L139.60 244.36L141.32 243.50L144.74 243.50L146.46 244.36L147.31 245.22L148.17 246.93L148.17 248.65L147.31 250.36L145.60 252.93L137.03 261.50L149.03 261.50"/>
<path d="M145.60 46.50L137.03 58.50L149.89 58.50M145.60 46.50L145.60 64.50"/>
</g>
<path d="M220 11h1v1h-1zM222 11h1v1h-1zM221 10h1v1h-1zM221 12h1v1h-1zM414 11h1v1h-1zM416 11h1v1h-1zM415 10h1v1h-1zM415 12h1v1h-1zM484 32h1v1h-1zM486 32h1v1h-1zM485 31h1v1h-1zM485 33h1v1h-1zM494 11h1v1h-1zM496 11h1v1h-1zM495 10h1v1h-1zM495 12h1v1h-1zM604 32h1v1h-1zM606 32h1v1h-1zM605 31h1v1h-1zM605 33h1v1h-1zM657 32h1v1h-1zM659 32h1v1h-1zM658 31h1v1h-1zM658 33h1v1h-1zM816 19h1v1h-1zM818 19h1v1h-1zM817 18h1v1h-1zM817 20h1v1h-1zM816 32h1v1h-1zM818 32h1v1h-1zM817 31h1v1h-1zM817 33h1v1h-1zM869 19h1v1h-1zM871 19h1v1h-1zM870 18h1v1h-1zM870 20h1v1h-1zM869 32h1v1h-1zM871 32h1v1h-1zM870 31h1v1h-1zM870 33h1v1h-1z" fill="#000" shape-rendering="crispEdges"/>
</svg></body></html>
